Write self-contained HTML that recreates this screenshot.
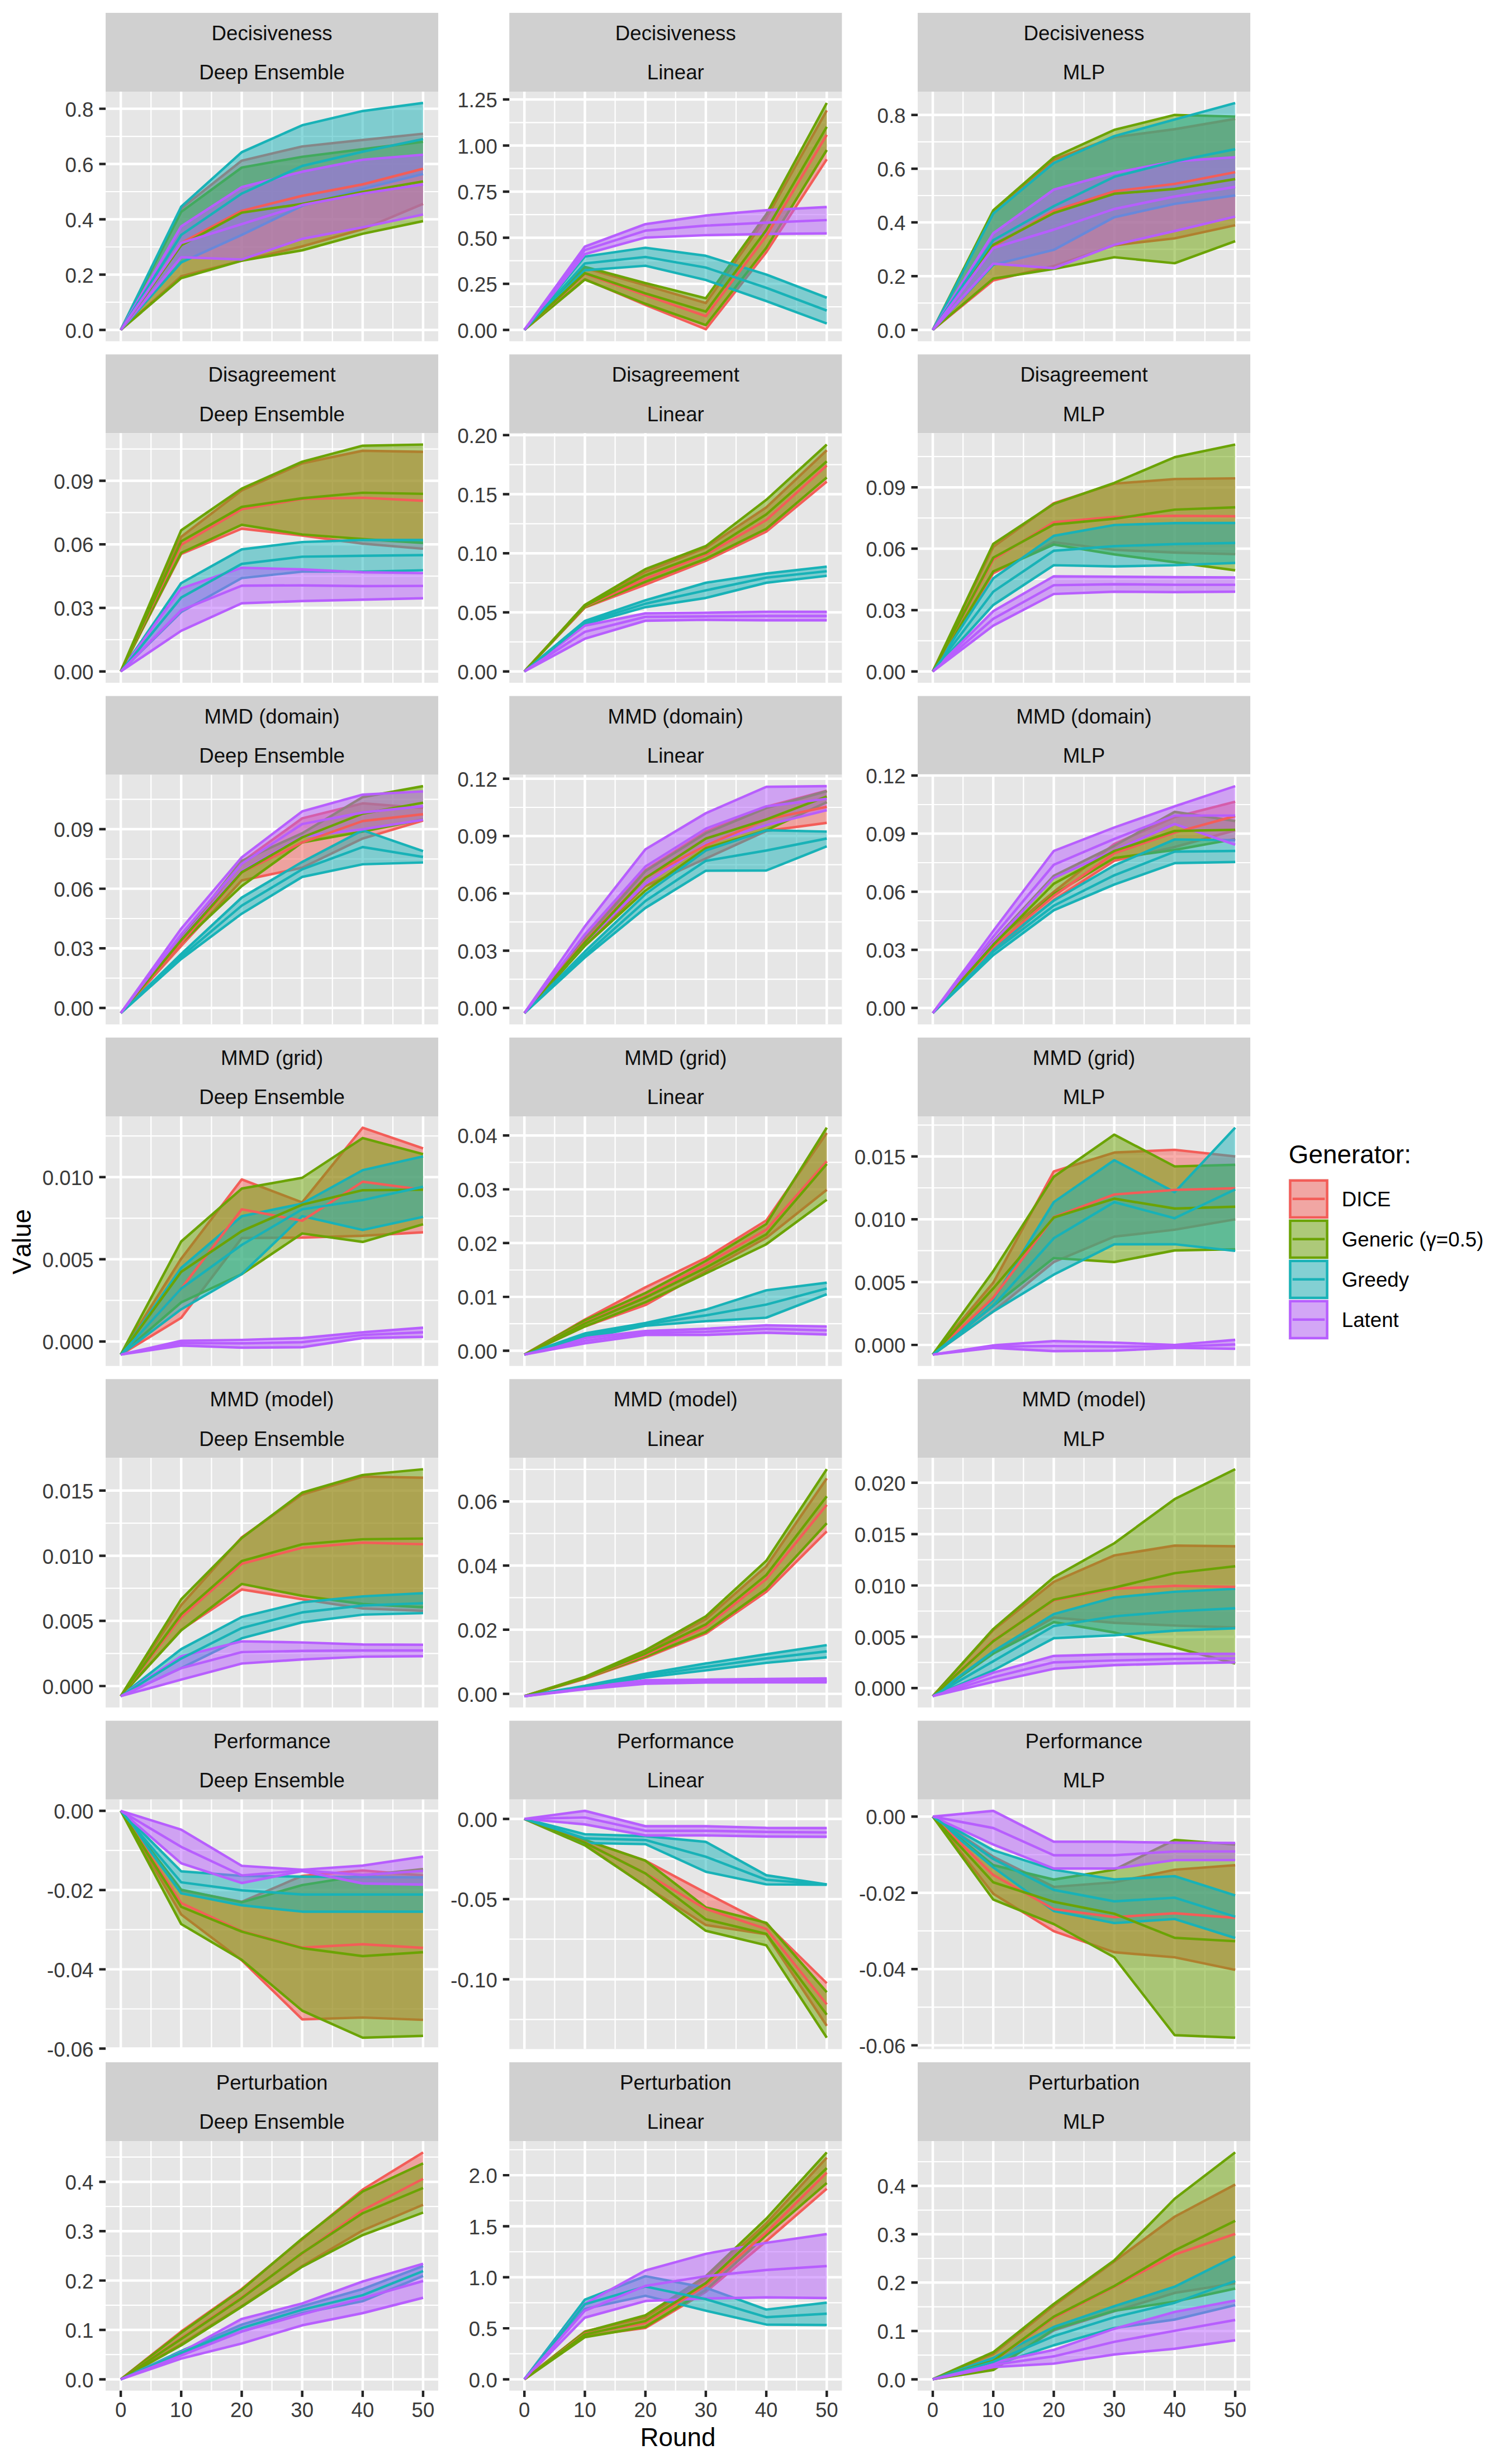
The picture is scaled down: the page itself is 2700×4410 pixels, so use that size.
<!DOCTYPE html>
<html lang="en"><head><meta charset="utf-8"><title>Generator metrics by round</title>
<style>html,body{margin:0;padding:0;background:#fff}svg{display:block}text{font-kerning:none}</style></head>
<body>
<svg width="2700" height="4410" viewBox="0 0 2700 4410" font-family='"Liberation Sans", Arial, Helvetica, sans-serif'>
<rect width="2700" height="4410" fill="#FFFFFF"/>
<g>
<rect x="189" y="23" width="595.1" height="141" fill="#D0D0D0"/>
<text x="486.6" y="72.1" font-size="36.67" fill="#0F0F0F" text-anchor="middle">Decisiveness</text>
<text x="486.6" y="142.2" font-size="36.67" fill="#0F0F0F" text-anchor="middle">Deep Ensemble</text>
<rect x="189" y="164" width="595.1" height="446.7" fill="#E6E6E6"/>
<path d="M189 540.9H784.1M189 442H784.1M189 343H784.1M189 244.1H784.1M270.2 164V610.7M378.4 164V610.7M486.6 164V610.7M594.8 164V610.7M703 164V610.7" stroke="#FFFFFF" stroke-width="2.22" fill="none"/>
<path d="M189 590.4H784.1M189 491.4H784.1M189 392.5H784.1M189 293.5H784.1M189 194.6H784.1M216.1 164V610.7M324.2 164V610.7M432.5 164V610.7M540.7 164V610.7M648.9 164V610.7M757 164V610.7" stroke="#FFFFFF" stroke-width="4.45" fill="none"/>
<polygon points="216.1,590.4 324.2,373.2 432.5,287.6 540.7,262.1 648.9,250.5 757,239.4 757,364.9 648.9,410.2 540.7,441 432.5,466.6 324.2,494.5 216.1,590.4" fill="#F35D58" fill-opacity="0.5"/>
<polyline points="216.1,590.4 324.2,373.2 432.5,287.6 540.7,262.1 648.9,250.5 757,239.4" fill="none" stroke="#F35D58" stroke-width="4.45" stroke-linejoin="round"/>
<polyline points="216.1,590.4 324.2,494.5 432.5,466.6 540.7,441 648.9,410.2 757,364.9" fill="none" stroke="#F35D58" stroke-width="4.45" stroke-linejoin="round"/>
<polygon points="216.1,590.4 324.2,379.3 432.5,299.9 540.7,280.6 648.9,267 757,253.8 757,395.8 648.9,418.4 540.7,448 432.5,466.6 324.2,497.8 216.1,590.4" fill="#6BA304" fill-opacity="0.5"/>
<polyline points="216.1,590.4 324.2,379.3 432.5,299.9 540.7,280.6 648.9,267 757,253.8" fill="none" stroke="#6BA304" stroke-width="4.45" stroke-linejoin="round"/>
<polyline points="216.1,590.4 324.2,497.8 432.5,466.6 540.7,448 648.9,418.4 757,395.8" fill="none" stroke="#6BA304" stroke-width="4.45" stroke-linejoin="round"/>
<polygon points="216.1,590.4 324.2,369.9 432.5,272.4 540.7,224.2 648.9,198.7 757,184.3 757,311.4 648.9,338.2 540.7,368.2 432.5,420.5 324.2,469.8 216.1,590.4" fill="#18B2B7" fill-opacity="0.5"/>
<polyline points="216.1,590.4 324.2,369.9 432.5,272.4 540.7,224.2 648.9,198.7 757,184.3" fill="none" stroke="#18B2B7" stroke-width="4.45" stroke-linejoin="round"/>
<polyline points="216.1,590.4 324.2,469.8 432.5,420.5 540.7,368.2 648.9,338.2 757,311.4" fill="none" stroke="#18B2B7" stroke-width="4.45" stroke-linejoin="round"/>
<polygon points="216.1,590.4 324.2,405.2 432.5,334.9 540.7,307.3 648.9,285.9 757,276.9 757,383.9 648.9,406.9 540.7,427.5 432.5,464.5 324.2,460.4 216.1,590.4" fill="#B75EFE" fill-opacity="0.5"/>
<polyline points="216.1,590.4 324.2,405.2 432.5,334.9 540.7,307.3 648.9,285.9 757,276.9" fill="none" stroke="#B75EFE" stroke-width="4.45" stroke-linejoin="round"/>
<polyline points="216.1,590.4 324.2,460.4 432.5,464.5 540.7,427.5 648.9,406.9 757,383.9" fill="none" stroke="#B75EFE" stroke-width="4.45" stroke-linejoin="round"/>
<polyline points="216.1,590.4 324.2,434.9 432.5,377.3 540.7,350.5 648.9,330 757,302" fill="none" stroke="#F35D58" stroke-width="4.45" stroke-linejoin="round"/>
<polyline points="216.1,590.4 324.2,439 432.5,380.6 540.7,364.9 648.9,343.5 757,324.6" fill="none" stroke="#6BA304" stroke-width="4.45" stroke-linejoin="round"/>
<polyline points="216.1,590.4 324.2,420.5 432.5,346.4 540.7,297 648.9,271.5 757,248.9" fill="none" stroke="#18B2B7" stroke-width="4.45" stroke-linejoin="round"/>
<polyline points="216.1,590.4 324.2,434.9 432.5,401.1 540.7,367 648.9,346.4 757,330" fill="none" stroke="#B75EFE" stroke-width="4.45" stroke-linejoin="round"/>
<path d="M177.5 590.4H189M177.5 491.4H189M177.5 392.5H189M177.5 293.5H189M177.5 194.6H189" stroke="#232323" stroke-width="4.45" fill="none"/>
<text x="167.5" y="604.5" font-size="36.67" fill="#3A3A3A" text-anchor="end">0.0</text>
<text x="167.5" y="505.5" font-size="36.67" fill="#3A3A3A" text-anchor="end">0.2</text>
<text x="167.5" y="406.6" font-size="36.67" fill="#3A3A3A" text-anchor="end">0.4</text>
<text x="167.5" y="307.6" font-size="36.67" fill="#3A3A3A" text-anchor="end">0.6</text>
<text x="167.5" y="208.7" font-size="36.67" fill="#3A3A3A" text-anchor="end">0.8</text>
</g>
<g>
<rect x="911.3" y="23" width="595.1" height="141" fill="#D0D0D0"/>
<text x="1208.8" y="72.1" font-size="36.67" fill="#0F0F0F" text-anchor="middle">Decisiveness</text>
<text x="1208.8" y="142.2" font-size="36.67" fill="#0F0F0F" text-anchor="middle">Linear</text>
<rect x="911.3" y="164" width="595.1" height="446.7" fill="#E6E6E6"/>
<path d="M911.3 549.2H1506.4M911.3 466.7H1506.4M911.3 384.2H1506.4M911.3 301.7H1506.4M911.3 219.3H1506.4M992.4 164V610.7M1100.6 164V610.7M1208.8 164V610.7M1317 164V610.7M1425.2 164V610.7" stroke="#FFFFFF" stroke-width="2.22" fill="none"/>
<path d="M911.3 590.4H1506.4M911.3 507.9H1506.4M911.3 425.4H1506.4M911.3 343H1506.4M911.3 260.5H1506.4M911.3 178H1506.4M938.3 164V610.7M1046.5 164V610.7M1154.8 164V610.7M1262.9 164V610.7M1371.1 164V610.7M1479.3 164V610.7" stroke="#FFFFFF" stroke-width="4.45" fill="none"/>
<polygon points="938.3,590.4 1046.5,479.7 1154.8,510.7 1262.9,542.4 1371.1,390.5 1479.3,197.6 1479.3,285.1 1371.1,451.4 1262.9,589.3 1154.8,545.8 1046.5,499.5 938.3,590.4" fill="#F35D58" fill-opacity="0.5"/>
<polyline points="938.3,590.4 1046.5,479.7 1154.8,510.7 1262.9,542.4 1371.1,390.5 1479.3,197.6" fill="none" stroke="#F35D58" stroke-width="4.45" stroke-linejoin="round"/>
<polyline points="938.3,590.4 1046.5,499.5 1154.8,545.8 1262.9,589.3 1371.1,451.4 1479.3,285.1" fill="none" stroke="#F35D58" stroke-width="4.45" stroke-linejoin="round"/>
<polygon points="938.3,590.4 1046.5,477.6 1154.8,506.6 1262.9,533.9 1371.1,383.6 1479.3,184.3 1479.3,268.5 1371.1,443.7 1262.9,581.9 1154.8,543.7 1046.5,500.4 938.3,590.4" fill="#6BA304" fill-opacity="0.5"/>
<polyline points="938.3,590.4 1046.5,477.6 1154.8,506.6 1262.9,533.9 1371.1,383.6 1479.3,184.3" fill="none" stroke="#6BA304" stroke-width="4.45" stroke-linejoin="round"/>
<polyline points="938.3,590.4 1046.5,500.4 1154.8,543.7 1262.9,581.9 1371.1,443.7 1479.3,268.5" fill="none" stroke="#6BA304" stroke-width="4.45" stroke-linejoin="round"/>
<polygon points="938.3,590.4 1046.5,459.1 1154.8,443.4 1262.9,457.8 1371.1,491.3 1479.3,532.8 1479.3,579 1371.1,538.8 1262.9,501.2 1154.8,475.6 1046.5,483.8 938.3,590.4" fill="#18B2B7" fill-opacity="0.5"/>
<polyline points="938.3,590.4 1046.5,459.1 1154.8,443.4 1262.9,457.8 1371.1,491.3 1479.3,532.8" fill="none" stroke="#18B2B7" stroke-width="4.45" stroke-linejoin="round"/>
<polyline points="938.3,590.4 1046.5,483.8 1154.8,475.6 1262.9,501.2 1371.1,538.8 1479.3,579" fill="none" stroke="#18B2B7" stroke-width="4.45" stroke-linejoin="round"/>
<polygon points="938.3,590.4 1046.5,441.3 1154.8,401.2 1262.9,385.7 1371.1,376.2 1479.3,370.5 1479.3,417.7 1371.1,418.8 1262.9,420.9 1154.8,425.2 1046.5,454.9 938.3,590.4" fill="#B75EFE" fill-opacity="0.5"/>
<polyline points="938.3,590.4 1046.5,441.3 1154.8,401.2 1262.9,385.7 1371.1,376.2 1479.3,370.5" fill="none" stroke="#B75EFE" stroke-width="4.45" stroke-linejoin="round"/>
<polyline points="938.3,590.4 1046.5,454.9 1154.8,425.2 1262.9,420.9 1371.1,418.8 1479.3,417.7" fill="none" stroke="#B75EFE" stroke-width="4.45" stroke-linejoin="round"/>
<polyline points="938.3,590.4 1046.5,490 1154.8,528.4 1262.9,565.9 1371.1,422.4 1479.3,241.3" fill="none" stroke="#F35D58" stroke-width="4.45" stroke-linejoin="round"/>
<polyline points="938.3,590.4 1046.5,488.8 1154.8,525.1 1262.9,557.7 1371.1,411.8 1479.3,227" fill="none" stroke="#6BA304" stroke-width="4.45" stroke-linejoin="round"/>
<polyline points="938.3,590.4 1046.5,471.5 1154.8,459.9 1262.9,478.9 1371.1,515.1 1479.3,555.8" fill="none" stroke="#18B2B7" stroke-width="4.45" stroke-linejoin="round"/>
<polyline points="938.3,590.4 1046.5,447.5 1154.8,412.8 1262.9,403.8 1371.1,398.5 1479.3,393.9" fill="none" stroke="#B75EFE" stroke-width="4.45" stroke-linejoin="round"/>
<path d="M899.8 590.4H911.3M899.8 507.9H911.3M899.8 425.4H911.3M899.8 343H911.3M899.8 260.5H911.3M899.8 178H911.3" stroke="#232323" stroke-width="4.45" fill="none"/>
<text x="889.8" y="604.5" font-size="36.67" fill="#3A3A3A" text-anchor="end">0.00</text>
<text x="889.8" y="522" font-size="36.67" fill="#3A3A3A" text-anchor="end">0.25</text>
<text x="889.8" y="439.5" font-size="36.67" fill="#3A3A3A" text-anchor="end">0.50</text>
<text x="889.8" y="357.1" font-size="36.67" fill="#3A3A3A" text-anchor="end">0.75</text>
<text x="889.8" y="274.6" font-size="36.67" fill="#3A3A3A" text-anchor="end">1.00</text>
<text x="889.8" y="192.1" font-size="36.67" fill="#3A3A3A" text-anchor="end">1.25</text>
</g>
<g>
<rect x="1642" y="23" width="595.1" height="141" fill="#D0D0D0"/>
<text x="1939.5" y="72.1" font-size="36.67" fill="#0F0F0F" text-anchor="middle">Decisiveness</text>
<text x="1939.5" y="142.2" font-size="36.67" fill="#0F0F0F" text-anchor="middle">MLP</text>
<rect x="1642" y="164" width="595.1" height="446.7" fill="#E6E6E6"/>
<path d="M1642 542.3H2237.1M1642 446.1H2237.1M1642 350H2237.1M1642 253.8H2237.1M1723.1 164V610.7M1831.3 164V610.7M1939.5 164V610.7M2047.8 164V610.7M2155.9 164V610.7" stroke="#FFFFFF" stroke-width="2.22" fill="none"/>
<path d="M1642 590.4H2237.1M1642 494.2H2237.1M1642 398H2237.1M1642 301.9H2237.1M1642 205.7H2237.1M1669 164V610.7M1777.2 164V610.7M1885.5 164V610.7M1993.7 164V610.7M2101.8 164V610.7M2210.1 164V610.7" stroke="#FFFFFF" stroke-width="4.45" fill="none"/>
<polygon points="1669,590.4 1777.2,379.3 1885.5,285.9 1993.7,245.6 2101.8,231.2 2210.1,212.7 2210.1,403.2 2101.8,426.6 1993.7,439 1885.5,476 1777.2,501.9 1669,590.4" fill="#F35D58" fill-opacity="0.5"/>
<polyline points="1669,590.4 1777.2,379.3 1885.5,285.9 1993.7,245.6 2101.8,231.2 2210.1,212.7" fill="none" stroke="#F35D58" stroke-width="4.45" stroke-linejoin="round"/>
<polyline points="1669,590.4 1777.2,501.9 1885.5,476 1993.7,439 2101.8,426.6 2210.1,403.2" fill="none" stroke="#F35D58" stroke-width="4.45" stroke-linejoin="round"/>
<polygon points="1669,590.4 1777.2,376.4 1885.5,281.8 1993.7,232.4 2101.8,205.7 2210.1,208.6 2210.1,431.6 2101.8,471.1 1993.7,460.4 1885.5,481.4 1777.2,498.6 1669,590.4" fill="#6BA304" fill-opacity="0.5"/>
<polyline points="1669,590.4 1777.2,376.4 1885.5,281.8 1993.7,232.4 2101.8,205.7 2210.1,208.6" fill="none" stroke="#6BA304" stroke-width="4.45" stroke-linejoin="round"/>
<polyline points="1669,590.4 1777.2,498.6 1885.5,481.4 1993.7,460.4 2101.8,471.1 2210.1,431.6" fill="none" stroke="#6BA304" stroke-width="4.45" stroke-linejoin="round"/>
<polygon points="1669,590.4 1777.2,382.2 1885.5,291.7 1993.7,243.6 2101.8,213.9 2210.1,184.3 2210.1,349.7 2101.8,364.9 1993.7,388.8 1885.5,447.2 1777.2,474 1669,590.4" fill="#18B2B7" fill-opacity="0.5"/>
<polyline points="1669,590.4 1777.2,382.2 1885.5,291.7 1993.7,243.6 2101.8,213.9 2210.1,184.3" fill="none" stroke="#18B2B7" stroke-width="4.45" stroke-linejoin="round"/>
<polyline points="1669,590.4 1777.2,474 1885.5,447.2 1993.7,388.8 2101.8,364.9 2210.1,349.7" fill="none" stroke="#18B2B7" stroke-width="4.45" stroke-linejoin="round"/>
<polygon points="1669,590.4 1777.2,417.6 1885.5,339.4 1993.7,309.4 2101.8,288.8 2210.1,281.4 2210.1,387.6 2101.8,413.5 1993.7,438.2 1885.5,480.1 1777.2,471.9 1669,590.4" fill="#B75EFE" fill-opacity="0.5"/>
<polyline points="1669,590.4 1777.2,417.6 1885.5,339.4 1993.7,309.4 2101.8,288.8 2210.1,281.4" fill="none" stroke="#B75EFE" stroke-width="4.45" stroke-linejoin="round"/>
<polyline points="1669,590.4 1777.2,471.9 1885.5,480.1 1993.7,438.2 2101.8,413.5 2210.1,387.6" fill="none" stroke="#B75EFE" stroke-width="4.45" stroke-linejoin="round"/>
<polyline points="1669,590.4 1777.2,441 1885.5,377.3 1993.7,342.3 2101.8,329.1 2210.1,308.1" fill="none" stroke="#F35D58" stroke-width="4.45" stroke-linejoin="round"/>
<polyline points="1669,590.4 1777.2,438.2 1885.5,381.4 1993.7,346.8 2101.8,338.2 2210.1,320.5" fill="none" stroke="#6BA304" stroke-width="4.45" stroke-linejoin="round"/>
<polyline points="1669,590.4 1777.2,429.9 1885.5,369 1993.7,316.4 2101.8,288.8 2210.1,267" fill="none" stroke="#18B2B7" stroke-width="4.45" stroke-linejoin="round"/>
<polyline points="1669,590.4 1777.2,443.9 1885.5,411 1993.7,374 2101.8,351.8 2210.1,334.5" fill="none" stroke="#B75EFE" stroke-width="4.45" stroke-linejoin="round"/>
<path d="M1630.5 590.4H1642M1630.5 494.2H1642M1630.5 398H1642M1630.5 301.9H1642M1630.5 205.7H1642" stroke="#232323" stroke-width="4.45" fill="none"/>
<text x="1620.5" y="604.5" font-size="36.67" fill="#3A3A3A" text-anchor="end">0.0</text>
<text x="1620.5" y="508.3" font-size="36.67" fill="#3A3A3A" text-anchor="end">0.2</text>
<text x="1620.5" y="412.1" font-size="36.67" fill="#3A3A3A" text-anchor="end">0.4</text>
<text x="1620.5" y="316" font-size="36.67" fill="#3A3A3A" text-anchor="end">0.6</text>
<text x="1620.5" y="219.8" font-size="36.67" fill="#3A3A3A" text-anchor="end">0.8</text>
</g>
<g>
<rect x="189" y="634.3" width="595.1" height="141" fill="#D0D0D0"/>
<text x="486.6" y="683.4" font-size="36.67" fill="#0F0F0F" text-anchor="middle">Disagreement</text>
<text x="486.6" y="753.5" font-size="36.67" fill="#0F0F0F" text-anchor="middle">Deep Ensemble</text>
<rect x="189" y="775.3" width="595.1" height="446.7" fill="#E6E6E6"/>
<path d="M189 1144.9H784.1M189 1031.1H784.1M189 917.4H784.1M189 803.6H784.1M270.2 775.3V1222M378.4 775.3V1222M486.6 775.3V1222M594.8 775.3V1222M703 775.3V1222" stroke="#FFFFFF" stroke-width="2.22" fill="none"/>
<path d="M189 1201.7H784.1M189 1088H784.1M189 974.2H784.1M189 860.5H784.1M216.1 775.3V1222M324.2 775.3V1222M432.5 775.3V1222M540.7 775.3V1222M648.9 775.3V1222M757 775.3V1222" stroke="#FFFFFF" stroke-width="4.45" fill="none"/>
<polygon points="216.1,1201.7 324.2,960.7 432.5,877.8 540.7,829.3 648.9,806.7 757,808.8 757,982.1 648.9,973 540.7,958.6 432.5,946.3 324.2,991.5 216.1,1201.7" fill="#F35D58" fill-opacity="0.5"/>
<polyline points="216.1,1201.7 324.2,960.7 432.5,877.8 540.7,829.3 648.9,806.7 757,808.8" fill="none" stroke="#F35D58" stroke-width="4.45" stroke-linejoin="round"/>
<polyline points="216.1,1201.7 324.2,991.5 432.5,946.3 540.7,958.6 648.9,973 757,982.1" fill="none" stroke="#F35D58" stroke-width="4.45" stroke-linejoin="round"/>
<polygon points="216.1,1201.7 324.2,949.2 432.5,874.5 540.7,826.4 648.9,797.7 757,795.6 757,971.8 648.9,964.8 540.7,956.6 432.5,939.3 324.2,989.4 216.1,1201.7" fill="#6BA304" fill-opacity="0.5"/>
<polyline points="216.1,1201.7 324.2,949.2 432.5,874.5 540.7,826.4 648.9,797.7 757,795.6" fill="none" stroke="#6BA304" stroke-width="4.45" stroke-linejoin="round"/>
<polyline points="216.1,1201.7 324.2,989.4 432.5,939.3 540.7,956.6 648.9,964.8 757,971.8" fill="none" stroke="#6BA304" stroke-width="4.45" stroke-linejoin="round"/>
<polygon points="216.1,1201.7 324.2,1043.6 432.5,983.3 540.7,970.1 648.9,966.4 757,966.4 757,1020.6 648.9,1023.1 540.7,1023.1 432.5,1034.6 324.2,1095.4 216.1,1201.7" fill="#18B2B7" fill-opacity="0.5"/>
<polyline points="216.1,1201.7 324.2,1043.6 432.5,983.3 540.7,970.1 648.9,966.4 757,966.4" fill="none" stroke="#18B2B7" stroke-width="4.45" stroke-linejoin="round"/>
<polyline points="216.1,1201.7 324.2,1095.4 432.5,1034.6 540.7,1023.1 648.9,1023.1 757,1020.6" fill="none" stroke="#18B2B7" stroke-width="4.45" stroke-linejoin="round"/>
<polygon points="216.1,1201.7 324.2,1053.1 432.5,1016.1 540.7,1019 648.9,1024.3 757,1025.6 757,1070.7 648.9,1073.2 540.7,1075.7 432.5,1079.8 324.2,1129 216.1,1201.7" fill="#B75EFE" fill-opacity="0.5"/>
<polyline points="216.1,1201.7 324.2,1053.1 432.5,1016.1 540.7,1019 648.9,1024.3 757,1025.6" fill="none" stroke="#B75EFE" stroke-width="4.45" stroke-linejoin="round"/>
<polyline points="216.1,1201.7 324.2,1129 432.5,1079.8 540.7,1075.7 648.9,1073.2 757,1070.7" fill="none" stroke="#B75EFE" stroke-width="4.45" stroke-linejoin="round"/>
<polyline points="216.1,1201.7 324.2,975.1 432.5,911.4 540.7,892.9 648.9,890.9 757,896.2" fill="none" stroke="#F35D58" stroke-width="4.45" stroke-linejoin="round"/>
<polyline points="216.1,1201.7 324.2,968.9 432.5,907.3 540.7,891.7 648.9,881.9 757,883.9" fill="none" stroke="#6BA304" stroke-width="4.45" stroke-linejoin="round"/>
<polyline points="216.1,1201.7 324.2,1069.5 432.5,1009.2 540.7,996.4 648.9,994.8 757,993.5" fill="none" stroke="#18B2B7" stroke-width="4.45" stroke-linejoin="round"/>
<polyline points="216.1,1201.7 324.2,1092.1 432.5,1048.2 540.7,1047.7 648.9,1049 757,1048.6" fill="none" stroke="#B75EFE" stroke-width="4.45" stroke-linejoin="round"/>
<path d="M177.5 1201.7H189M177.5 1088H189M177.5 974.2H189M177.5 860.5H189" stroke="#232323" stroke-width="4.45" fill="none"/>
<text x="167.5" y="1215.8" font-size="36.67" fill="#3A3A3A" text-anchor="end">0.00</text>
<text x="167.5" y="1102.1" font-size="36.67" fill="#3A3A3A" text-anchor="end">0.03</text>
<text x="167.5" y="988.3" font-size="36.67" fill="#3A3A3A" text-anchor="end">0.06</text>
<text x="167.5" y="874.6" font-size="36.67" fill="#3A3A3A" text-anchor="end">0.09</text>
</g>
<g>
<rect x="911.3" y="634.3" width="595.1" height="141" fill="#D0D0D0"/>
<text x="1208.8" y="683.4" font-size="36.67" fill="#0F0F0F" text-anchor="middle">Disagreement</text>
<text x="1208.8" y="753.5" font-size="36.67" fill="#0F0F0F" text-anchor="middle">Linear</text>
<rect x="911.3" y="775.3" width="595.1" height="446.7" fill="#E6E6E6"/>
<path d="M911.3 1148.9H1506.4M911.3 1043.1H1506.4M911.3 937.4H1506.4M911.3 831.6H1506.4M992.4 775.3V1222M1100.6 775.3V1222M1208.8 775.3V1222M1317 775.3V1222M1425.2 775.3V1222" stroke="#FFFFFF" stroke-width="2.22" fill="none"/>
<path d="M911.3 1201.7H1506.4M911.3 1096H1506.4M911.3 990.2H1506.4M911.3 884.5H1506.4M911.3 778.7H1506.4M938.3 775.3V1222M1046.5 775.3V1222M1154.8 775.3V1222M1262.9 775.3V1222M1371.1 775.3V1222M1479.3 775.3V1222" stroke="#FFFFFF" stroke-width="4.45" fill="none"/>
<polygon points="938.3,1201.7 1046.5,1083.4 1154.8,1023.6 1262.9,980.3 1371.1,908.2 1479.3,805.9 1479.3,862 1371.1,951.5 1262.9,1003.8 1154.8,1046.3 1046.5,1087.5 938.3,1201.7" fill="#F35D58" fill-opacity="0.5"/>
<polyline points="938.3,1201.7 1046.5,1083.4 1154.8,1023.6 1262.9,980.3 1371.1,908.2 1479.3,805.9" fill="none" stroke="#F35D58" stroke-width="4.45" stroke-linejoin="round"/>
<polyline points="938.3,1201.7 1046.5,1087.5 1154.8,1046.3 1262.9,1003.8 1371.1,951.5 1479.3,862" fill="none" stroke="#F35D58" stroke-width="4.45" stroke-linejoin="round"/>
<polygon points="938.3,1201.7 1046.5,1082.6 1154.8,1018.7 1262.9,977.4 1371.1,894.6 1479.3,795.6 1479.3,854.6 1371.1,946.5 1262.9,1000.1 1154.8,1041.4 1046.5,1086.7 938.3,1201.7" fill="#6BA304" fill-opacity="0.5"/>
<polyline points="938.3,1201.7 1046.5,1082.6 1154.8,1018.7 1262.9,977.4 1371.1,894.6 1479.3,795.6" fill="none" stroke="#6BA304" stroke-width="4.45" stroke-linejoin="round"/>
<polyline points="938.3,1201.7 1046.5,1086.7 1154.8,1041.4 1262.9,1000.1 1371.1,946.5 1479.3,854.6" fill="none" stroke="#6BA304" stroke-width="4.45" stroke-linejoin="round"/>
<polygon points="938.3,1201.7 1046.5,1111.4 1154.8,1074.3 1262.9,1043 1371.1,1026.5 1479.3,1014.1 1479.3,1030.6 1371.1,1043 1262.9,1070.2 1154.8,1086.7 1046.5,1117.2 938.3,1201.7" fill="#18B2B7" fill-opacity="0.5"/>
<polyline points="938.3,1201.7 1046.5,1111.4 1154.8,1074.3 1262.9,1043 1371.1,1026.5 1479.3,1014.1" fill="none" stroke="#18B2B7" stroke-width="4.45" stroke-linejoin="round"/>
<polyline points="938.3,1201.7 1046.5,1117.2 1154.8,1086.7 1262.9,1070.2 1371.1,1043 1479.3,1030.6" fill="none" stroke="#18B2B7" stroke-width="4.45" stroke-linejoin="round"/>
<polygon points="938.3,1201.7 1046.5,1119.7 1154.8,1097.8 1262.9,1096.6 1371.1,1094.9 1479.3,1094.9 1479.3,1110.2 1371.1,1110.2 1262.9,1109.4 1154.8,1111 1046.5,1143.2 938.3,1201.7" fill="#B75EFE" fill-opacity="0.5"/>
<polyline points="938.3,1201.7 1046.5,1119.7 1154.8,1097.8 1262.9,1096.6 1371.1,1094.9 1479.3,1094.9" fill="none" stroke="#B75EFE" stroke-width="4.45" stroke-linejoin="round"/>
<polyline points="938.3,1201.7 1046.5,1143.2 1154.8,1111 1262.9,1109.4 1371.1,1110.2 1479.3,1110.2" fill="none" stroke="#B75EFE" stroke-width="4.45" stroke-linejoin="round"/>
<polyline points="938.3,1201.7 1046.5,1085.5 1154.8,1036 1262.9,992.7 1371.1,930.9 1479.3,833.2" fill="none" stroke="#F35D58" stroke-width="4.45" stroke-linejoin="round"/>
<polyline points="938.3,1201.7 1046.5,1084.6 1154.8,1029.8 1262.9,989.4 1371.1,920.6 1479.3,825.7" fill="none" stroke="#6BA304" stroke-width="4.45" stroke-linejoin="round"/>
<polyline points="938.3,1201.7 1046.5,1114.3 1154.8,1080.5 1262.9,1056.6 1371.1,1033.9 1479.3,1022.4" fill="none" stroke="#18B2B7" stroke-width="4.45" stroke-linejoin="round"/>
<polyline points="938.3,1201.7 1046.5,1130.8 1154.8,1104 1262.9,1103.2 1371.1,1102.4 1479.3,1102.4" fill="none" stroke="#B75EFE" stroke-width="4.45" stroke-linejoin="round"/>
<path d="M899.8 1201.7H911.3M899.8 1096H911.3M899.8 990.2H911.3M899.8 884.5H911.3M899.8 778.7H911.3" stroke="#232323" stroke-width="4.45" fill="none"/>
<text x="889.8" y="1215.8" font-size="36.67" fill="#3A3A3A" text-anchor="end">0.00</text>
<text x="889.8" y="1110.1" font-size="36.67" fill="#3A3A3A" text-anchor="end">0.05</text>
<text x="889.8" y="1004.3" font-size="36.67" fill="#3A3A3A" text-anchor="end">0.10</text>
<text x="889.8" y="898.6" font-size="36.67" fill="#3A3A3A" text-anchor="end">0.15</text>
<text x="889.8" y="792.8" font-size="36.67" fill="#3A3A3A" text-anchor="end">0.20</text>
</g>
<g>
<rect x="1642" y="634.3" width="595.1" height="141" fill="#D0D0D0"/>
<text x="1939.5" y="683.4" font-size="36.67" fill="#0F0F0F" text-anchor="middle">Disagreement</text>
<text x="1939.5" y="753.5" font-size="36.67" fill="#0F0F0F" text-anchor="middle">MLP</text>
<rect x="1642" y="775.3" width="595.1" height="446.7" fill="#E6E6E6"/>
<path d="M1642 1146.8H2237.1M1642 1036.9H2237.1M1642 927.1H2237.1M1642 817.2H2237.1M1723.1 775.3V1222M1831.3 775.3V1222M1939.5 775.3V1222M2047.8 775.3V1222M2155.9 775.3V1222" stroke="#FFFFFF" stroke-width="2.22" fill="none"/>
<path d="M1642 1201.7H2237.1M1642 1091.9H2237.1M1642 982H2237.1M1642 872.2H2237.1M1669 775.3V1222M1777.2 775.3V1222M1885.5 775.3V1222M1993.7 775.3V1222M2101.8 775.3V1222M2210.1 775.3V1222" stroke="#FFFFFF" stroke-width="4.45" fill="none"/>
<polygon points="1669,1201.7 1777.2,978.7 1885.5,900.6 1993.7,865.6 2101.8,857.4 2210.1,856.1 2210.1,991.9 2101.8,989 1993.7,984.1 1885.5,970.5 1777.2,1026 1669,1201.7" fill="#F35D58" fill-opacity="0.5"/>
<polyline points="1669,1201.7 1777.2,978.7 1885.5,900.6 1993.7,865.6 2101.8,857.4 2210.1,856.1" fill="none" stroke="#F35D58" stroke-width="4.45" stroke-linejoin="round"/>
<polyline points="1669,1201.7 1777.2,1026 1885.5,970.5 1993.7,984.1 2101.8,989 2210.1,991.9" fill="none" stroke="#F35D58" stroke-width="4.45" stroke-linejoin="round"/>
<polygon points="1669,1201.7 1777.2,973.4 1885.5,901.8 1993.7,864.3 2101.8,818.3 2210.1,795.6 2210.1,1020.7 2101.8,1006.3 1993.7,992.3 1885.5,974.6 1777.2,1022.7 1669,1201.7" fill="#6BA304" fill-opacity="0.5"/>
<polyline points="1669,1201.7 1777.2,973.4 1885.5,901.8 1993.7,864.3 2101.8,818.3 2210.1,795.6" fill="none" stroke="#6BA304" stroke-width="4.45" stroke-linejoin="round"/>
<polyline points="1669,1201.7 1777.2,1022.7 1885.5,974.6 1993.7,992.3 2101.8,1006.3 2210.1,1020.7" fill="none" stroke="#6BA304" stroke-width="4.45" stroke-linejoin="round"/>
<polygon points="1669,1201.7 1777.2,1035.1 1885.5,959 1993.7,939.6 2101.8,936.3 2210.1,935.9 2210.1,1007.5 2101.8,1011.6 1993.7,1013.7 1885.5,1011.6 1777.2,1082.8 1669,1201.7" fill="#18B2B7" fill-opacity="0.5"/>
<polyline points="1669,1201.7 1777.2,1035.1 1885.5,959 1993.7,939.6 2101.8,936.3 2210.1,935.9" fill="none" stroke="#18B2B7" stroke-width="4.45" stroke-linejoin="round"/>
<polyline points="1669,1201.7 1777.2,1082.8 1885.5,1011.6 1993.7,1013.7 2101.8,1011.6 2210.1,1007.5" fill="none" stroke="#18B2B7" stroke-width="4.45" stroke-linejoin="round"/>
<polygon points="1669,1201.7 1777.2,1093.9 1885.5,1031.4 1993.7,1032.2 2101.8,1033 2210.1,1033.4 2210.1,1059 2101.8,1059.8 1993.7,1059 1885.5,1063.1 1777.2,1119.8 1669,1201.7" fill="#B75EFE" fill-opacity="0.5"/>
<polyline points="1669,1201.7 1777.2,1093.9 1885.5,1031.4 1993.7,1032.2 2101.8,1033 2210.1,1033.4" fill="none" stroke="#B75EFE" stroke-width="4.45" stroke-linejoin="round"/>
<polyline points="1669,1201.7 1777.2,1119.8 1885.5,1063.1 1993.7,1059 2101.8,1059.8 2210.1,1059" fill="none" stroke="#B75EFE" stroke-width="4.45" stroke-linejoin="round"/>
<polyline points="1669,1201.7 1777.2,1001.4 1885.5,934.7 1993.7,925.2 2101.8,923.2 2210.1,924" fill="none" stroke="#F35D58" stroke-width="4.45" stroke-linejoin="round"/>
<polyline points="1669,1201.7 1777.2,998.1 1885.5,938.8 1993.7,928.5 2101.8,912.1 2210.1,908" fill="none" stroke="#6BA304" stroke-width="4.45" stroke-linejoin="round"/>
<polyline points="1669,1201.7 1777.2,1059 1885.5,985.7 1993.7,977.5 2101.8,973.8 2210.1,971.7" fill="none" stroke="#18B2B7" stroke-width="4.45" stroke-linejoin="round"/>
<polyline points="1669,1201.7 1777.2,1107.5 1885.5,1047.4 1993.7,1045.8 2101.8,1046.6 2210.1,1046.6" fill="none" stroke="#B75EFE" stroke-width="4.45" stroke-linejoin="round"/>
<path d="M1630.5 1201.7H1642M1630.5 1091.9H1642M1630.5 982H1642M1630.5 872.2H1642" stroke="#232323" stroke-width="4.45" fill="none"/>
<text x="1620.5" y="1215.8" font-size="36.67" fill="#3A3A3A" text-anchor="end">0.00</text>
<text x="1620.5" y="1106" font-size="36.67" fill="#3A3A3A" text-anchor="end">0.03</text>
<text x="1620.5" y="996.1" font-size="36.67" fill="#3A3A3A" text-anchor="end">0.06</text>
<text x="1620.5" y="886.3" font-size="36.67" fill="#3A3A3A" text-anchor="end">0.09</text>
</g>
<g>
<rect x="189" y="1245.7" width="595.1" height="141" fill="#D0D0D0"/>
<text x="486.6" y="1294.8" font-size="36.67" fill="#0F0F0F" text-anchor="middle">MMD (domain)</text>
<text x="486.6" y="1364.9" font-size="36.67" fill="#0F0F0F" text-anchor="middle">Deep Ensemble</text>
<rect x="189" y="1386.7" width="595.1" height="446.7" fill="#E6E6E6"/>
<path d="M189 1750.7H784.1M189 1644H784.1M189 1537.3H784.1M189 1430.6H784.1M270.2 1386.7V1833.4M378.4 1386.7V1833.4M486.6 1386.7V1833.4M594.8 1386.7V1833.4M703 1386.7V1833.4" stroke="#FFFFFF" stroke-width="2.22" fill="none"/>
<path d="M189 1804H784.1M189 1697.3H784.1M189 1590.6H784.1M189 1483.9H784.1M216.1 1386.7V1833.4M324.2 1386.7V1833.4M432.5 1386.7V1833.4M540.7 1386.7V1833.4M648.9 1386.7V1833.4M757 1386.7V1833.4" stroke="#FFFFFF" stroke-width="4.45" fill="none"/>
<polygon points="216.1,1813.1 324.2,1684.7 432.5,1542.7 540.7,1464.6 648.9,1437.8 757,1446.1 757,1468.7 648.9,1500.8 540.7,1553 432.5,1575.7 324.2,1692.9 216.1,1813.1" fill="#F35D58" fill-opacity="0.5"/>
<polyline points="216.1,1813.1 324.2,1684.7 432.5,1542.7 540.7,1464.6 648.9,1437.8 757,1446.1" fill="none" stroke="#F35D58" stroke-width="4.45" stroke-linejoin="round"/>
<polyline points="216.1,1813.1 324.2,1692.9 432.5,1575.7 540.7,1553 648.9,1500.8 757,1468.7" fill="none" stroke="#F35D58" stroke-width="4.45" stroke-linejoin="round"/>
<polygon points="216.1,1813.1 324.2,1677.7 432.5,1540.7 540.7,1491.3 648.9,1426.7 757,1407 757,1466.6 648.9,1488.4 540.7,1507.8 432.5,1585.9 324.2,1687.6 216.1,1813.1" fill="#6BA304" fill-opacity="0.5"/>
<polyline points="216.1,1813.1 324.2,1677.7 432.5,1540.7 540.7,1491.3 648.9,1426.7 757,1407" fill="none" stroke="#6BA304" stroke-width="4.45" stroke-linejoin="round"/>
<polyline points="216.1,1813.1 324.2,1687.6 432.5,1585.9 540.7,1507.8 648.9,1488.4 757,1466.6" fill="none" stroke="#6BA304" stroke-width="4.45" stroke-linejoin="round"/>
<polygon points="216.1,1813.1 324.2,1707.3 432.5,1606.5 540.7,1542.7 648.9,1486 757,1523.4 757,1543.6 648.9,1546.9 540.7,1569.5 432.5,1635.3 324.2,1716.4 216.1,1813.1" fill="#18B2B7" fill-opacity="0.5"/>
<polyline points="216.1,1813.1 324.2,1707.3 432.5,1606.5 540.7,1542.7 648.9,1486 757,1523.4" fill="none" stroke="#18B2B7" stroke-width="4.45" stroke-linejoin="round"/>
<polyline points="216.1,1813.1 324.2,1716.4 432.5,1635.3 540.7,1569.5 648.9,1546.9 757,1543.6" fill="none" stroke="#18B2B7" stroke-width="4.45" stroke-linejoin="round"/>
<polygon points="216.1,1813.1 324.2,1662.1 432.5,1534.5 540.7,1452.2 648.9,1422.2 757,1416.4 757,1467.4 648.9,1484.3 540.7,1497.5 432.5,1559.2 324.2,1680.6 216.1,1813.1" fill="#B75EFE" fill-opacity="0.5"/>
<polyline points="216.1,1813.1 324.2,1662.1 432.5,1534.5 540.7,1452.2 648.9,1422.2 757,1416.4" fill="none" stroke="#B75EFE" stroke-width="4.45" stroke-linejoin="round"/>
<polyline points="216.1,1813.1 324.2,1680.6 432.5,1559.2 540.7,1497.5 648.9,1484.3 757,1467.4" fill="none" stroke="#B75EFE" stroke-width="4.45" stroke-linejoin="round"/>
<polyline points="216.1,1813.1 324.2,1687.6 432.5,1561.3 540.7,1507.8 648.9,1469.5 757,1457.2" fill="none" stroke="#F35D58" stroke-width="4.45" stroke-linejoin="round"/>
<polyline points="216.1,1813.1 324.2,1682.6 432.5,1561.3 540.7,1498.7 648.9,1456.3 757,1436.6" fill="none" stroke="#6BA304" stroke-width="4.45" stroke-linejoin="round"/>
<polyline points="216.1,1813.1 324.2,1712.3 432.5,1620.9 540.7,1555.9 648.9,1516 757,1533.7" fill="none" stroke="#18B2B7" stroke-width="4.45" stroke-linejoin="round"/>
<polyline points="216.1,1813.1 324.2,1672.3 432.5,1546 540.7,1474.9 648.9,1454.3 757,1442.8" fill="none" stroke="#B75EFE" stroke-width="4.45" stroke-linejoin="round"/>
<path d="M177.5 1804H189M177.5 1697.3H189M177.5 1590.6H189M177.5 1483.9H189" stroke="#232323" stroke-width="4.45" fill="none"/>
<text x="167.5" y="1818.1" font-size="36.67" fill="#3A3A3A" text-anchor="end">0.00</text>
<text x="167.5" y="1711.4" font-size="36.67" fill="#3A3A3A" text-anchor="end">0.03</text>
<text x="167.5" y="1604.7" font-size="36.67" fill="#3A3A3A" text-anchor="end">0.06</text>
<text x="167.5" y="1498" font-size="36.67" fill="#3A3A3A" text-anchor="end">0.09</text>
</g>
<g>
<rect x="911.3" y="1245.7" width="595.1" height="141" fill="#D0D0D0"/>
<text x="1208.8" y="1294.8" font-size="36.67" fill="#0F0F0F" text-anchor="middle">MMD (domain)</text>
<text x="1208.8" y="1364.9" font-size="36.67" fill="#0F0F0F" text-anchor="middle">Linear</text>
<rect x="911.3" y="1386.7" width="595.1" height="446.7" fill="#E6E6E6"/>
<path d="M911.3 1752.7H1506.4M911.3 1650.1H1506.4M911.3 1547.6H1506.4M911.3 1445H1506.4M992.4 1386.7V1833.4M1100.6 1386.7V1833.4M1208.8 1386.7V1833.4M1317 1386.7V1833.4M1425.2 1386.7V1833.4" stroke="#FFFFFF" stroke-width="2.22" fill="none"/>
<path d="M911.3 1804H1506.4M911.3 1701.4H1506.4M911.3 1598.9H1506.4M911.3 1496.3H1506.4M911.3 1393.7H1506.4M938.3 1386.7V1833.4M1046.5 1386.7V1833.4M1154.8 1386.7V1833.4M1262.9 1386.7V1833.4M1371.1 1386.7V1833.4M1479.3 1386.7V1833.4" stroke="#FFFFFF" stroke-width="4.45" fill="none"/>
<polygon points="938.3,1813.1 1046.5,1678.5 1154.8,1557.1 1262.9,1488.4 1371.1,1444 1479.3,1415.2 1479.3,1472.8 1371.1,1487.2 1262.9,1536.6 1154.8,1585.9 1046.5,1690.9 938.3,1813.1" fill="#F35D58" fill-opacity="0.5"/>
<polyline points="938.3,1813.1 1046.5,1678.5 1154.8,1557.1 1262.9,1488.4 1371.1,1444 1479.3,1415.2" fill="none" stroke="#F35D58" stroke-width="4.45" stroke-linejoin="round"/>
<polyline points="938.3,1813.1 1046.5,1690.9 1154.8,1585.9 1262.9,1536.6 1371.1,1487.2 1479.3,1472.8" fill="none" stroke="#F35D58" stroke-width="4.45" stroke-linejoin="round"/>
<polygon points="938.3,1813.1 1046.5,1680.6 1154.8,1559.2 1262.9,1491.3 1371.1,1446.1 1479.3,1416 1479.3,1435.8 1371.1,1486 1262.9,1518.1 1154.8,1594.2 1046.5,1692.9 938.3,1813.1" fill="#6BA304" fill-opacity="0.5"/>
<polyline points="938.3,1813.1 1046.5,1680.6 1154.8,1559.2 1262.9,1491.3 1371.1,1446.1 1479.3,1416" fill="none" stroke="#6BA304" stroke-width="4.45" stroke-linejoin="round"/>
<polyline points="938.3,1813.1 1046.5,1692.9 1154.8,1594.2 1262.9,1518.1 1371.1,1486 1479.3,1435.8" fill="none" stroke="#6BA304" stroke-width="4.45" stroke-linejoin="round"/>
<polygon points="938.3,1813.1 1046.5,1703.2 1154.8,1600.3 1262.9,1522.2 1371.1,1486 1479.3,1488.4 1479.3,1514.8 1371.1,1558 1262.9,1558.4 1154.8,1625 1046.5,1713.5 938.3,1813.1" fill="#18B2B7" fill-opacity="0.5"/>
<polyline points="938.3,1813.1 1046.5,1703.2 1154.8,1600.3 1262.9,1522.2 1371.1,1486 1479.3,1488.4" fill="none" stroke="#18B2B7" stroke-width="4.45" stroke-linejoin="round"/>
<polyline points="938.3,1813.1 1046.5,1713.5 1154.8,1625 1262.9,1558.4 1371.1,1558 1479.3,1514.8" fill="none" stroke="#18B2B7" stroke-width="4.45" stroke-linejoin="round"/>
<polygon points="938.3,1813.1 1046.5,1657.9 1154.8,1520.1 1262.9,1455.5 1371.1,1408.2 1479.3,1407 1479.3,1450.2 1371.1,1476.9 1262.9,1510.6 1154.8,1581.8 1046.5,1686.7 938.3,1813.1" fill="#B75EFE" fill-opacity="0.5"/>
<polyline points="938.3,1813.1 1046.5,1657.9 1154.8,1520.1 1262.9,1455.5 1371.1,1408.2 1479.3,1407" fill="none" stroke="#B75EFE" stroke-width="4.45" stroke-linejoin="round"/>
<polyline points="938.3,1813.1 1046.5,1686.7 1154.8,1581.8 1262.9,1510.6 1371.1,1476.9 1479.3,1450.2" fill="none" stroke="#B75EFE" stroke-width="4.45" stroke-linejoin="round"/>
<polyline points="938.3,1813.1 1046.5,1684.7 1154.8,1570.7 1262.9,1513.1 1371.1,1466.6 1479.3,1444" fill="none" stroke="#F35D58" stroke-width="4.45" stroke-linejoin="round"/>
<polyline points="938.3,1813.1 1046.5,1686.7 1154.8,1571.5 1262.9,1500.8 1371.1,1466.6 1479.3,1425.5" fill="none" stroke="#6BA304" stroke-width="4.45" stroke-linejoin="round"/>
<polyline points="938.3,1813.1 1046.5,1709.4 1154.8,1612.7 1262.9,1540.7 1371.1,1522.2 1479.3,1500.8" fill="none" stroke="#18B2B7" stroke-width="4.45" stroke-linejoin="round"/>
<polyline points="938.3,1813.1 1046.5,1672.3 1154.8,1551 1262.9,1483.1 1371.1,1443.2 1479.3,1429.6" fill="none" stroke="#B75EFE" stroke-width="4.45" stroke-linejoin="round"/>
<path d="M899.8 1804H911.3M899.8 1701.4H911.3M899.8 1598.9H911.3M899.8 1496.3H911.3M899.8 1393.7H911.3" stroke="#232323" stroke-width="4.45" fill="none"/>
<text x="889.8" y="1818.1" font-size="36.67" fill="#3A3A3A" text-anchor="end">0.00</text>
<text x="889.8" y="1715.5" font-size="36.67" fill="#3A3A3A" text-anchor="end">0.03</text>
<text x="889.8" y="1613" font-size="36.67" fill="#3A3A3A" text-anchor="end">0.06</text>
<text x="889.8" y="1510.4" font-size="36.67" fill="#3A3A3A" text-anchor="end">0.09</text>
<text x="889.8" y="1407.8" font-size="36.67" fill="#3A3A3A" text-anchor="end">0.12</text>
</g>
<g>
<rect x="1642" y="1245.7" width="595.1" height="141" fill="#D0D0D0"/>
<text x="1939.5" y="1294.8" font-size="36.67" fill="#0F0F0F" text-anchor="middle">MMD (domain)</text>
<text x="1939.5" y="1364.9" font-size="36.67" fill="#0F0F0F" text-anchor="middle">MLP</text>
<rect x="1642" y="1386.7" width="595.1" height="446.7" fill="#E6E6E6"/>
<path d="M1642 1752H2237.1M1642 1648H2237.1M1642 1544H2237.1M1642 1440H2237.1M1723.1 1386.7V1833.4M1831.3 1386.7V1833.4M1939.5 1386.7V1833.4M2047.8 1386.7V1833.4M2155.9 1386.7V1833.4" stroke="#FFFFFF" stroke-width="2.22" fill="none"/>
<path d="M1642 1804H2237.1M1642 1700H2237.1M1642 1596H2237.1M1642 1492H2237.1M1642 1388H2237.1M1669 1386.7V1833.4M1777.2 1386.7V1833.4M1885.5 1386.7V1833.4M1993.7 1386.7V1833.4M2101.8 1386.7V1833.4M2210.1 1386.7V1833.4" stroke="#FFFFFF" stroke-width="4.45" fill="none"/>
<polygon points="1669,1813.1 1777.2,1686.7 1885.5,1596.2 1993.7,1510.6 2101.8,1462.5 2210.1,1434.9 2210.1,1486 2101.8,1516 1993.7,1540.7 1885.5,1610.6 1777.2,1701.1 1669,1813.1" fill="#F35D58" fill-opacity="0.5"/>
<polyline points="1669,1813.1 1777.2,1686.7 1885.5,1596.2 1993.7,1510.6 2101.8,1462.5 2210.1,1434.9" fill="none" stroke="#F35D58" stroke-width="4.45" stroke-linejoin="round"/>
<polyline points="1669,1813.1 1777.2,1701.1 1885.5,1610.6 1993.7,1540.7 2101.8,1516 2210.1,1486" fill="none" stroke="#F35D58" stroke-width="4.45" stroke-linejoin="round"/>
<polygon points="1669,1813.1 1777.2,1684.7 1885.5,1567.4 1993.7,1513.9 2101.8,1453 2210.1,1469.5 2210.1,1501.6 2101.8,1521.3 1993.7,1535.7 1885.5,1600.3 1777.2,1697 1669,1813.1" fill="#6BA304" fill-opacity="0.5"/>
<polyline points="1669,1813.1 1777.2,1684.7 1885.5,1567.4 1993.7,1513.9 2101.8,1453 2210.1,1469.5" fill="none" stroke="#6BA304" stroke-width="4.45" stroke-linejoin="round"/>
<polyline points="1669,1813.1 1777.2,1697 1885.5,1600.3 1993.7,1535.7 2101.8,1521.3 2210.1,1501.6" fill="none" stroke="#6BA304" stroke-width="4.45" stroke-linejoin="round"/>
<polygon points="1669,1813.1 1777.2,1697 1885.5,1611.9 1993.7,1548.9 2101.8,1502.4 2210.1,1503.7 2210.1,1542.7 2101.8,1544.8 1993.7,1583.1 1885.5,1629.1 1777.2,1709.4 1669,1813.1" fill="#18B2B7" fill-opacity="0.5"/>
<polyline points="1669,1813.1 1777.2,1697 1885.5,1611.9 1993.7,1548.9 2101.8,1502.4 2210.1,1503.7" fill="none" stroke="#18B2B7" stroke-width="4.45" stroke-linejoin="round"/>
<polyline points="1669,1813.1 1777.2,1709.4 1885.5,1629.1 1993.7,1583.1 2101.8,1544.8 2210.1,1542.7" fill="none" stroke="#18B2B7" stroke-width="4.45" stroke-linejoin="round"/>
<polygon points="1669,1813.1 1777.2,1666.2 1885.5,1523 1993.7,1481 2101.8,1443.2 2210.1,1407 2210.1,1511.9 2101.8,1474.9 1993.7,1522.2 1885.5,1571.5 1777.2,1686.7 1669,1813.1" fill="#B75EFE" fill-opacity="0.5"/>
<polyline points="1669,1813.1 1777.2,1666.2 1885.5,1523 1993.7,1481 2101.8,1443.2 2210.1,1407" fill="none" stroke="#B75EFE" stroke-width="4.45" stroke-linejoin="round"/>
<polyline points="1669,1813.1 1777.2,1686.7 1885.5,1571.5 1993.7,1522.2 2101.8,1474.9 2210.1,1511.9" fill="none" stroke="#B75EFE" stroke-width="4.45" stroke-linejoin="round"/>
<polyline points="1669,1813.1 1777.2,1695 1885.5,1603.6 1993.7,1527.1 2101.8,1490.1 2210.1,1460.5" fill="none" stroke="#F35D58" stroke-width="4.45" stroke-linejoin="round"/>
<polyline points="1669,1813.1 1777.2,1690.9 1885.5,1581.8 1993.7,1523 2101.8,1487.2 2210.1,1485.1" fill="none" stroke="#6BA304" stroke-width="4.45" stroke-linejoin="round"/>
<polyline points="1669,1813.1 1777.2,1703.2 1885.5,1620.9 1993.7,1566.6 2101.8,1524.2 2210.1,1523" fill="none" stroke="#18B2B7" stroke-width="4.45" stroke-linejoin="round"/>
<polyline points="1669,1813.1 1777.2,1676.5 1885.5,1547.7 1993.7,1501.6 2101.8,1459.6 2210.1,1459.6" fill="none" stroke="#B75EFE" stroke-width="4.45" stroke-linejoin="round"/>
<path d="M1630.5 1804H1642M1630.5 1700H1642M1630.5 1596H1642M1630.5 1492H1642M1630.5 1388H1642" stroke="#232323" stroke-width="4.45" fill="none"/>
<text x="1620.5" y="1818.1" font-size="36.67" fill="#3A3A3A" text-anchor="end">0.00</text>
<text x="1620.5" y="1714.1" font-size="36.67" fill="#3A3A3A" text-anchor="end">0.03</text>
<text x="1620.5" y="1610.1" font-size="36.67" fill="#3A3A3A" text-anchor="end">0.06</text>
<text x="1620.5" y="1506.1" font-size="36.67" fill="#3A3A3A" text-anchor="end">0.09</text>
<text x="1620.5" y="1402.1" font-size="36.67" fill="#3A3A3A" text-anchor="end">0.12</text>
</g>
<g>
<rect x="189" y="1857" width="595.1" height="141" fill="#D0D0D0"/>
<text x="486.6" y="1906.1" font-size="36.67" fill="#0F0F0F" text-anchor="middle">MMD (grid)</text>
<text x="486.6" y="1976.2" font-size="36.67" fill="#0F0F0F" text-anchor="middle">Deep Ensemble</text>
<rect x="189" y="1998" width="595.1" height="446.7" fill="#E6E6E6"/>
<path d="M189 2327.4H784.1M189 2180.3H784.1M189 2033.2H784.1M270.2 1998V2444.7M378.4 1998V2444.7M486.6 1998V2444.7M594.8 1998V2444.7M703 1998V2444.7" stroke="#FFFFFF" stroke-width="2.22" fill="none"/>
<path d="M189 2400.9H784.1M189 2253.8H784.1M189 2106.8H784.1M216.1 1998V2444.7M324.2 1998V2444.7M432.5 1998V2444.7M540.7 1998V2444.7M648.9 1998V2444.7M757 1998V2444.7" stroke="#FFFFFF" stroke-width="4.45" fill="none"/>
<polygon points="216.1,2424.4 324.2,2252.8 432.5,2110.9 540.7,2152 648.9,2018.3 757,2055.3 757,2205.5 648.9,2211.7 540.7,2215 432.5,2215.8 324.2,2358.6 216.1,2424.4" fill="#F35D58" fill-opacity="0.5"/>
<polyline points="216.1,2424.4 324.2,2252.8 432.5,2110.9 540.7,2152 648.9,2018.3 757,2055.3" fill="none" stroke="#F35D58" stroke-width="4.45" stroke-linejoin="round"/>
<polyline points="216.1,2424.4 324.2,2358.6 432.5,2215.8 540.7,2215 648.9,2211.7 757,2205.5" fill="none" stroke="#F35D58" stroke-width="4.45" stroke-linejoin="round"/>
<polygon points="216.1,2424.4 324.2,2222 432.5,2127.3 540.7,2108 648.9,2036.8 757,2065.6 757,2191.1 648.9,2222.8 540.7,2207.6 432.5,2280.4 324.2,2331 216.1,2424.4" fill="#6BA304" fill-opacity="0.5"/>
<polyline points="216.1,2424.4 324.2,2222 432.5,2127.3 540.7,2108 648.9,2036.8 757,2065.6" fill="none" stroke="#6BA304" stroke-width="4.45" stroke-linejoin="round"/>
<polyline points="216.1,2424.4 324.2,2331 432.5,2280.4 540.7,2207.6 648.9,2222.8 757,2191.1" fill="none" stroke="#6BA304" stroke-width="4.45" stroke-linejoin="round"/>
<polygon points="216.1,2424.4 324.2,2269.3 432.5,2176.7 540.7,2154.1 648.9,2094.4 757,2069.7 757,2177.9 648.9,2201.4 540.7,2176.7 432.5,2280.4 324.2,2343.3 216.1,2424.4" fill="#18B2B7" fill-opacity="0.5"/>
<polyline points="216.1,2424.4 324.2,2269.3 432.5,2176.7 540.7,2154.1 648.9,2094.4 757,2069.7" fill="none" stroke="#18B2B7" stroke-width="4.45" stroke-linejoin="round"/>
<polyline points="216.1,2424.4 324.2,2343.3 432.5,2280.4 540.7,2176.7 648.9,2201.4 757,2177.9" fill="none" stroke="#18B2B7" stroke-width="4.45" stroke-linejoin="round"/>
<polygon points="216.1,2424.4 324.2,2399.7 432.5,2398.1 540.7,2394.8 648.9,2384.5 757,2376.2 757,2392.7 648.9,2394.8 540.7,2411.2 432.5,2412 324.2,2408.3 216.1,2424.4" fill="#B75EFE" fill-opacity="0.5"/>
<polyline points="216.1,2424.4 324.2,2399.7 432.5,2398.1 540.7,2394.8 648.9,2384.5 757,2376.2" fill="none" stroke="#B75EFE" stroke-width="4.45" stroke-linejoin="round"/>
<polyline points="216.1,2424.4 324.2,2408.3 432.5,2412 540.7,2411.2 648.9,2394.8 757,2392.7" fill="none" stroke="#B75EFE" stroke-width="4.45" stroke-linejoin="round"/>
<polyline points="216.1,2424.4 324.2,2306.3 432.5,2164.4 540.7,2184.9 648.9,2115 757,2129.4" fill="none" stroke="#F35D58" stroke-width="4.45" stroke-linejoin="round"/>
<polyline points="216.1,2424.4 324.2,2276.3 432.5,2203.4 540.7,2156.1 648.9,2130.2 757,2129.4" fill="none" stroke="#6BA304" stroke-width="4.45" stroke-linejoin="round"/>
<polyline points="216.1,2424.4 324.2,2306.3 432.5,2228.1 540.7,2164.4 648.9,2147.9 757,2124" fill="none" stroke="#18B2B7" stroke-width="4.45" stroke-linejoin="round"/>
<polyline points="216.1,2424.4 324.2,2403.8 432.5,2404.2 540.7,2402.2 648.9,2389.4 757,2384.5" fill="none" stroke="#B75EFE" stroke-width="4.45" stroke-linejoin="round"/>
<path d="M177.5 2400.9H189M177.5 2253.8H189M177.5 2106.8H189" stroke="#232323" stroke-width="4.45" fill="none"/>
<text x="167.5" y="2415" font-size="36.67" fill="#3A3A3A" text-anchor="end">0.000</text>
<text x="167.5" y="2267.9" font-size="36.67" fill="#3A3A3A" text-anchor="end">0.005</text>
<text x="167.5" y="2120.9" font-size="36.67" fill="#3A3A3A" text-anchor="end">0.010</text>
</g>
<g>
<rect x="911.3" y="1857" width="595.1" height="141" fill="#D0D0D0"/>
<text x="1208.8" y="1906.1" font-size="36.67" fill="#0F0F0F" text-anchor="middle">MMD (grid)</text>
<text x="1208.8" y="1976.2" font-size="36.67" fill="#0F0F0F" text-anchor="middle">Linear</text>
<rect x="911.3" y="1998" width="595.1" height="446.7" fill="#E6E6E6"/>
<path d="M911.3 2369.2H1506.4M911.3 2273H1506.4M911.3 2176.7H1506.4M911.3 2080.4H1506.4M992.4 1998V2444.7M1100.6 1998V2444.7M1208.8 1998V2444.7M1317 1998V2444.7M1425.2 1998V2444.7" stroke="#FFFFFF" stroke-width="2.22" fill="none"/>
<path d="M911.3 2417.4H1506.4M911.3 2321.1H1506.4M911.3 2224.8H1506.4M911.3 2128.6H1506.4M911.3 2032.3H1506.4M938.3 1998V2444.7M1046.5 1998V2444.7M1154.8 1998V2444.7M1262.9 1998V2444.7M1371.1 1998V2444.7M1479.3 1998V2444.7" stroke="#FFFFFF" stroke-width="4.45" fill="none"/>
<polygon points="938.3,2424.4 1046.5,2361.7 1154.8,2304 1262.9,2251.6 1371.1,2184.4 1479.3,2027.8 1479.3,2129.6 1371.1,2215.4 1262.9,2275.1 1154.8,2335.7 1046.5,2374.1 938.3,2424.4" fill="#F35D58" fill-opacity="0.5"/>
<polyline points="938.3,2424.4 1046.5,2361.7 1154.8,2304 1262.9,2251.6 1371.1,2184.4 1479.3,2027.8" fill="none" stroke="#F35D58" stroke-width="4.45" stroke-linejoin="round"/>
<polyline points="938.3,2424.4 1046.5,2374.1 1154.8,2335.7 1262.9,2275.1 1371.1,2215.4 1479.3,2129.6" fill="none" stroke="#F35D58" stroke-width="4.45" stroke-linejoin="round"/>
<polygon points="938.3,2424.4 1046.5,2363 1154.8,2314.3 1262.9,2256.6 1371.1,2190.6 1479.3,2018.3 1479.3,2147.3 1371.1,2226.9 1262.9,2279.3 1154.8,2330.8 1046.5,2374.1 938.3,2424.4" fill="#6BA304" fill-opacity="0.5"/>
<polyline points="938.3,2424.4 1046.5,2363 1154.8,2314.3 1262.9,2256.6 1371.1,2190.6 1479.3,2018.3" fill="none" stroke="#6BA304" stroke-width="4.45" stroke-linejoin="round"/>
<polyline points="938.3,2424.4 1046.5,2374.1 1154.8,2330.8 1262.9,2279.3 1371.1,2226.9 1479.3,2147.3" fill="none" stroke="#6BA304" stroke-width="4.45" stroke-linejoin="round"/>
<polygon points="938.3,2424.4 1046.5,2386.5 1154.8,2367.9 1262.9,2344 1371.1,2309.4 1479.3,2295.8 1479.3,2316.4 1371.1,2358.4 1262.9,2364.6 1154.8,2372.9 1046.5,2394.7 938.3,2424.4" fill="#18B2B7" fill-opacity="0.5"/>
<polyline points="938.3,2424.4 1046.5,2386.5 1154.8,2367.9 1262.9,2344 1371.1,2309.4 1479.3,2295.8" fill="none" stroke="#18B2B7" stroke-width="4.45" stroke-linejoin="round"/>
<polyline points="938.3,2424.4 1046.5,2394.7 1154.8,2372.9 1262.9,2364.6 1371.1,2358.4 1479.3,2316.4" fill="none" stroke="#18B2B7" stroke-width="4.45" stroke-linejoin="round"/>
<polygon points="938.3,2424.4 1046.5,2394.7 1154.8,2382.3 1262.9,2378.2 1371.1,2372 1479.3,2374.1 1479.3,2388.5 1371.1,2385.2 1262.9,2389.3 1154.8,2389.3 1046.5,2404.2 938.3,2424.4" fill="#B75EFE" fill-opacity="0.5"/>
<polyline points="938.3,2424.4 1046.5,2394.7 1154.8,2382.3 1262.9,2378.2 1371.1,2372 1479.3,2374.1" fill="none" stroke="#B75EFE" stroke-width="4.45" stroke-linejoin="round"/>
<polyline points="938.3,2424.4 1046.5,2404.2 1154.8,2389.3 1262.9,2389.3 1371.1,2385.2 1479.3,2388.5" fill="none" stroke="#B75EFE" stroke-width="4.45" stroke-linejoin="round"/>
<polyline points="938.3,2424.4 1046.5,2367.9 1154.8,2320.5 1262.9,2262.8 1371.1,2200.9 1479.3,2078.5" fill="none" stroke="#F35D58" stroke-width="4.45" stroke-linejoin="round"/>
<polyline points="938.3,2424.4 1046.5,2368.7 1154.8,2322.6 1262.9,2269 1371.1,2209.2 1479.3,2083.4" fill="none" stroke="#6BA304" stroke-width="4.45" stroke-linejoin="round"/>
<polyline points="938.3,2424.4 1046.5,2390.6 1154.8,2370 1262.9,2354.3 1371.1,2334.9 1479.3,2306.1" fill="none" stroke="#18B2B7" stroke-width="4.45" stroke-linejoin="round"/>
<polyline points="938.3,2424.4 1046.5,2399.6 1154.8,2385.6 1262.9,2383.6 1371.1,2378.2 1479.3,2381.1" fill="none" stroke="#B75EFE" stroke-width="4.45" stroke-linejoin="round"/>
<path d="M899.8 2417.4H911.3M899.8 2321.1H911.3M899.8 2224.8H911.3M899.8 2128.6H911.3M899.8 2032.3H911.3" stroke="#232323" stroke-width="4.45" fill="none"/>
<text x="889.8" y="2431.5" font-size="36.67" fill="#3A3A3A" text-anchor="end">0.00</text>
<text x="889.8" y="2335.2" font-size="36.67" fill="#3A3A3A" text-anchor="end">0.01</text>
<text x="889.8" y="2238.9" font-size="36.67" fill="#3A3A3A" text-anchor="end">0.02</text>
<text x="889.8" y="2142.7" font-size="36.67" fill="#3A3A3A" text-anchor="end">0.03</text>
<text x="889.8" y="2046.4" font-size="36.67" fill="#3A3A3A" text-anchor="end">0.04</text>
</g>
<g>
<rect x="1642" y="1857" width="595.1" height="141" fill="#D0D0D0"/>
<text x="1939.5" y="1906.1" font-size="36.67" fill="#0F0F0F" text-anchor="middle">MMD (grid)</text>
<text x="1939.5" y="1976.2" font-size="36.67" fill="#0F0F0F" text-anchor="middle">MLP</text>
<rect x="1642" y="1998" width="595.1" height="446.7" fill="#E6E6E6"/>
<path d="M1642 2350.9H2237.1M1642 2238.4H2237.1M1642 2126H2237.1M1642 2013.6H2237.1M1723.1 1998V2444.7M1831.3 1998V2444.7M1939.5 1998V2444.7M2047.8 1998V2444.7M2155.9 1998V2444.7" stroke="#FFFFFF" stroke-width="2.22" fill="none"/>
<path d="M1642 2407.1H2237.1M1642 2294.6H2237.1M1642 2182.2H2237.1M1642 2069.8H2237.1M1669 1998V2444.7M1777.2 1998V2444.7M1885.5 1998V2444.7M1993.7 1998V2444.7M2101.8 1998V2444.7M2210.1 1998V2444.7" stroke="#FFFFFF" stroke-width="4.45" fill="none"/>
<polygon points="1669,2424.4 1777.2,2295.8 1885.5,2096.6 1993.7,2062.8 2101.8,2057.9 2210.1,2069.8 2210.1,2182.4 2101.8,2200.9 1993.7,2213.3 1885.5,2258.7 1777.2,2347.3 1669,2424.4" fill="#F35D58" fill-opacity="0.5"/>
<polyline points="1669,2424.4 1777.2,2295.8 1885.5,2096.6 1993.7,2062.8 2101.8,2057.9 2210.1,2069.8" fill="none" stroke="#F35D58" stroke-width="4.45" stroke-linejoin="round"/>
<polyline points="1669,2424.4 1777.2,2347.3 1885.5,2258.7 1993.7,2213.3 2101.8,2200.9 2210.1,2182.4" fill="none" stroke="#F35D58" stroke-width="4.45" stroke-linejoin="round"/>
<polygon points="1669,2424.4 1777.2,2275.1 1885.5,2106.1 1993.7,2030.7 2101.8,2087.6 2210.1,2084.7 2210.1,2236 2101.8,2238 1993.7,2258.7 1885.5,2251.6 1777.2,2337 1669,2424.4" fill="#6BA304" fill-opacity="0.5"/>
<polyline points="1669,2424.4 1777.2,2275.1 1885.5,2106.1 1993.7,2030.7 2101.8,2087.6 2210.1,2084.7" fill="none" stroke="#6BA304" stroke-width="4.45" stroke-linejoin="round"/>
<polyline points="1669,2424.4 1777.2,2337 1885.5,2251.6 1993.7,2258.7 2101.8,2238 2210.1,2236" fill="none" stroke="#6BA304" stroke-width="4.45" stroke-linejoin="round"/>
<polygon points="1669,2424.4 1777.2,2326.7 1885.5,2151.5 1993.7,2076.4 2101.8,2133.7 2210.1,2018.3 2210.1,2238.9 2101.8,2226.9 1993.7,2226.9 1885.5,2281.3 1777.2,2347.3 1669,2424.4" fill="#18B2B7" fill-opacity="0.5"/>
<polyline points="1669,2424.4 1777.2,2326.7 1885.5,2151.5 1993.7,2076.4 2101.8,2133.7 2210.1,2018.3" fill="none" stroke="#18B2B7" stroke-width="4.45" stroke-linejoin="round"/>
<polyline points="1669,2424.4 1777.2,2347.3 1885.5,2281.3 1993.7,2226.9 2101.8,2226.9 2210.1,2238.9" fill="none" stroke="#18B2B7" stroke-width="4.45" stroke-linejoin="round"/>
<polygon points="1669,2424.4 1777.2,2407.9 1885.5,2400.1 1993.7,2402.9 2101.8,2407.1 2210.1,2398 2210.1,2414.1 2101.8,2412.4 1993.7,2417.4 1885.5,2418.2 1777.2,2412.4 1669,2424.4" fill="#B75EFE" fill-opacity="0.5"/>
<polyline points="1669,2424.4 1777.2,2407.9 1885.5,2400.1 1993.7,2402.9 2101.8,2407.1 2210.1,2398" fill="none" stroke="#B75EFE" stroke-width="4.45" stroke-linejoin="round"/>
<polyline points="1669,2424.4 1777.2,2412.4 1885.5,2418.2 1993.7,2417.4 2101.8,2412.4 2210.1,2414.1" fill="none" stroke="#B75EFE" stroke-width="4.45" stroke-linejoin="round"/>
<polyline points="1669,2424.4 1777.2,2322.6 1885.5,2178.3 1993.7,2137.9 2101.8,2129.6 2210.1,2126.7" fill="none" stroke="#F35D58" stroke-width="4.45" stroke-linejoin="round"/>
<polyline points="1669,2424.4 1777.2,2306.1 1885.5,2179.1 1993.7,2145.3 2101.8,2163 2210.1,2159.7" fill="none" stroke="#6BA304" stroke-width="4.45" stroke-linejoin="round"/>
<polyline points="1669,2424.4 1777.2,2337 1885.5,2216.2 1993.7,2151.5 2101.8,2180.3 2210.1,2128.8" fill="none" stroke="#18B2B7" stroke-width="4.45" stroke-linejoin="round"/>
<polyline points="1669,2424.4 1777.2,2410 1885.5,2409.1 1993.7,2410 2101.8,2410 2210.1,2406.2" fill="none" stroke="#B75EFE" stroke-width="4.45" stroke-linejoin="round"/>
<path d="M1630.5 2407.1H1642M1630.5 2294.6H1642M1630.5 2182.2H1642M1630.5 2069.8H1642" stroke="#232323" stroke-width="4.45" fill="none"/>
<text x="1620.5" y="2421.2" font-size="36.67" fill="#3A3A3A" text-anchor="end">0.000</text>
<text x="1620.5" y="2308.7" font-size="36.67" fill="#3A3A3A" text-anchor="end">0.005</text>
<text x="1620.5" y="2196.3" font-size="36.67" fill="#3A3A3A" text-anchor="end">0.010</text>
<text x="1620.5" y="2083.9" font-size="36.67" fill="#3A3A3A" text-anchor="end">0.015</text>
</g>
<g>
<rect x="189" y="2468.3" width="595.1" height="141" fill="#D0D0D0"/>
<text x="486.6" y="2517.4" font-size="36.67" fill="#0F0F0F" text-anchor="middle">MMD (model)</text>
<text x="486.6" y="2587.5" font-size="36.67" fill="#0F0F0F" text-anchor="middle">Deep Ensemble</text>
<rect x="189" y="2609.3" width="595.1" height="446.7" fill="#E6E6E6"/>
<path d="M189 2959.3H784.1M189 2842.7H784.1M189 2726.1H784.1M270.2 2609.3V3056M378.4 2609.3V3056M486.6 2609.3V3056M594.8 2609.3V3056M703 2609.3V3056" stroke="#FFFFFF" stroke-width="2.22" fill="none"/>
<path d="M189 3017.6H784.1M189 2901H784.1M189 2784.4H784.1M189 2667.8H784.1M216.1 2609.3V3056M324.2 2609.3V3056M432.5 2609.3V3056M540.7 2609.3V3056M648.9 2609.3V3056M757 2609.3V3056" stroke="#FFFFFF" stroke-width="4.45" fill="none"/>
<polygon points="216.1,3035.7 324.2,2872.7 432.5,2751.6 540.7,2674.8 648.9,2642.8 757,2644.8 757,2883 648.9,2878.9 540.7,2862.4 432.5,2844.8 324.2,2917 216.1,3035.7" fill="#F35D58" fill-opacity="0.5"/>
<polyline points="216.1,3035.7 324.2,2872.7 432.5,2751.6 540.7,2674.8 648.9,2642.8 757,2644.8" fill="none" stroke="#F35D58" stroke-width="4.45" stroke-linejoin="round"/>
<polyline points="216.1,3035.7 324.2,2917 432.5,2844.8 540.7,2862.4 648.9,2878.9 757,2883" fill="none" stroke="#F35D58" stroke-width="4.45" stroke-linejoin="round"/>
<polygon points="216.1,3035.7 324.2,2862.4 432.5,2752.8 540.7,2671.5 648.9,2639.9 757,2629.6 757,2876.8 648.9,2870.7 540.7,2856.3 432.5,2834.9 324.2,2917.9 216.1,3035.7" fill="#6BA304" fill-opacity="0.5"/>
<polyline points="216.1,3035.7 324.2,2862.4 432.5,2752.8 540.7,2671.5 648.9,2639.9 757,2629.6" fill="none" stroke="#6BA304" stroke-width="4.45" stroke-linejoin="round"/>
<polyline points="216.1,3035.7 324.2,2917.9 432.5,2834.9 540.7,2856.3 648.9,2870.7 757,2876.8" fill="none" stroke="#6BA304" stroke-width="4.45" stroke-linejoin="round"/>
<polygon points="216.1,3035.7 324.2,2951.5 432.5,2894.1 540.7,2867.8 648.9,2857.1 757,2851.4 757,2887.1 648.9,2889.9 540.7,2903.5 432.5,2932.2 324.2,2985.6 216.1,3035.7" fill="#18B2B7" fill-opacity="0.5"/>
<polyline points="216.1,3035.7 324.2,2951.5 432.5,2894.1 540.7,2867.8 648.9,2857.1 757,2851.4" fill="none" stroke="#18B2B7" stroke-width="4.45" stroke-linejoin="round"/>
<polyline points="216.1,3035.7 324.2,2985.6 432.5,2932.2 540.7,2903.5 648.9,2889.9 757,2887.1" fill="none" stroke="#18B2B7" stroke-width="4.45" stroke-linejoin="round"/>
<polygon points="216.1,3035.7 324.2,2964.3 432.5,2937.6 540.7,2939.6 648.9,2943.3 757,2943.7 757,2964.3 648.9,2965.1 540.7,2970 432.5,2977.4 324.2,3006.2 216.1,3035.7" fill="#B75EFE" fill-opacity="0.5"/>
<polyline points="216.1,3035.7 324.2,2964.3 432.5,2937.6 540.7,2939.6 648.9,2943.3 757,2943.7" fill="none" stroke="#B75EFE" stroke-width="4.45" stroke-linejoin="round"/>
<polyline points="216.1,3035.7 324.2,3006.2 432.5,2977.4 540.7,2970 648.9,2965.1 757,2964.3" fill="none" stroke="#B75EFE" stroke-width="4.45" stroke-linejoin="round"/>
<polyline points="216.1,3035.7 324.2,2894.5 432.5,2798.8 540.7,2770.1 648.9,2761 757,2763.9" fill="none" stroke="#F35D58" stroke-width="4.45" stroke-linejoin="round"/>
<polyline points="216.1,3035.7 324.2,2889.1 432.5,2793.9 540.7,2763.9 648.9,2754.9 757,2753.6" fill="none" stroke="#6BA304" stroke-width="4.45" stroke-linejoin="round"/>
<polyline points="216.1,3035.7 324.2,2968.4 432.5,2913.8 540.7,2885.8 648.9,2873.5 757,2869.4" fill="none" stroke="#18B2B7" stroke-width="4.45" stroke-linejoin="round"/>
<polyline points="216.1,3035.7 324.2,2985.6 432.5,2956.9 540.7,2954.8 648.9,2954 757,2954" fill="none" stroke="#B75EFE" stroke-width="4.45" stroke-linejoin="round"/>
<path d="M177.5 3017.6H189M177.5 2901H189M177.5 2784.4H189M177.5 2667.8H189" stroke="#232323" stroke-width="4.45" fill="none"/>
<text x="167.5" y="3031.7" font-size="36.67" fill="#3A3A3A" text-anchor="end">0.000</text>
<text x="167.5" y="2915.1" font-size="36.67" fill="#3A3A3A" text-anchor="end">0.005</text>
<text x="167.5" y="2798.5" font-size="36.67" fill="#3A3A3A" text-anchor="end">0.010</text>
<text x="167.5" y="2681.9" font-size="36.67" fill="#3A3A3A" text-anchor="end">0.015</text>
</g>
<g>
<rect x="911.3" y="2468.3" width="595.1" height="141" fill="#D0D0D0"/>
<text x="1208.8" y="2517.4" font-size="36.67" fill="#0F0F0F" text-anchor="middle">MMD (model)</text>
<text x="1208.8" y="2587.5" font-size="36.67" fill="#0F0F0F" text-anchor="middle">Linear</text>
<rect x="911.3" y="2609.3" width="595.1" height="446.7" fill="#E6E6E6"/>
<path d="M911.3 2974.2H1506.4M911.3 2859.4H1506.4M911.3 2744.6H1506.4M911.3 2629.8H1506.4M992.4 2609.3V3056M1100.6 2609.3V3056M1208.8 2609.3V3056M1317 2609.3V3056M1425.2 2609.3V3056" stroke="#FFFFFF" stroke-width="2.22" fill="none"/>
<path d="M911.3 3031.6H1506.4M911.3 2916.8H1506.4M911.3 2802H1506.4M911.3 2687.2H1506.4M938.3 2609.3V3056M1046.5 2609.3V3056M1154.8 2609.3V3056M1262.9 2609.3V3056M1371.1 2609.3V3056M1479.3 2609.3V3056" stroke="#FFFFFF" stroke-width="4.45" fill="none"/>
<polygon points="938.3,3035.7 1046.5,3002 1154.8,2956.7 1262.9,2897.9 1371.1,2803.3 1479.3,2646.1 1479.3,2740.7 1371.1,2848.9 1262.9,2923.8 1154.8,2967 1046.5,3004.9 938.3,3035.7" fill="#F35D58" fill-opacity="0.5"/>
<polyline points="938.3,3035.7 1046.5,3002 1154.8,2956.7 1262.9,2897.9 1371.1,2803.3 1479.3,2646.1" fill="none" stroke="#F35D58" stroke-width="4.45" stroke-linejoin="round"/>
<polyline points="938.3,3035.7 1046.5,3004.9 1154.8,2967 1262.9,2923.8 1371.1,2848.9 1479.3,2740.7" fill="none" stroke="#F35D58" stroke-width="4.45" stroke-linejoin="round"/>
<polygon points="938.3,3035.7 1046.5,3001.2 1154.8,2953.8 1262.9,2892.9 1371.1,2793.4 1479.3,2629.6 1479.3,2726.3 1371.1,2843.6 1262.9,2920.9 1154.8,2964.9 1046.5,3004 938.3,3035.7" fill="#6BA304" fill-opacity="0.5"/>
<polyline points="938.3,3035.7 1046.5,3001.2 1154.8,2953.8 1262.9,2892.9 1371.1,2793.4 1479.3,2629.6" fill="none" stroke="#6BA304" stroke-width="4.45" stroke-linejoin="round"/>
<polyline points="938.3,3035.7 1046.5,3004 1154.8,2964.9 1262.9,2920.9 1371.1,2843.6 1479.3,2726.3" fill="none" stroke="#6BA304" stroke-width="4.45" stroke-linejoin="round"/>
<polygon points="938.3,3035.7 1046.5,3017.2 1154.8,2995.8 1262.9,2977.3 1371.1,2960.8 1479.3,2944.4 1479.3,2966.2 1371.1,2976.1 1262.9,2989.6 1154.8,3002.4 1046.5,3019.7 938.3,3035.7" fill="#18B2B7" fill-opacity="0.5"/>
<polyline points="938.3,3035.7 1046.5,3017.2 1154.8,2995.8 1262.9,2977.3 1371.1,2960.8 1479.3,2944.4" fill="none" stroke="#18B2B7" stroke-width="4.45" stroke-linejoin="round"/>
<polyline points="938.3,3035.7 1046.5,3019.7 1154.8,3002.4 1262.9,2989.6 1371.1,2976.1 1479.3,2966.2" fill="none" stroke="#18B2B7" stroke-width="4.45" stroke-linejoin="round"/>
<polygon points="938.3,3035.7 1046.5,3020.5 1154.8,3007.3 1262.9,3006.1 1371.1,3004.9 1479.3,3004 1479.3,3011 1371.1,3011 1262.9,3011.4 1154.8,3013.5 1046.5,3023.4 938.3,3035.7" fill="#B75EFE" fill-opacity="0.5"/>
<polyline points="938.3,3035.7 1046.5,3020.5 1154.8,3007.3 1262.9,3006.1 1371.1,3004.9 1479.3,3004" fill="none" stroke="#B75EFE" stroke-width="4.45" stroke-linejoin="round"/>
<polyline points="938.3,3035.7 1046.5,3023.4 1154.8,3013.5 1262.9,3011.4 1371.1,3011 1479.3,3011" fill="none" stroke="#B75EFE" stroke-width="4.45" stroke-linejoin="round"/>
<polyline points="938.3,3035.7 1046.5,3003.2 1154.8,2962.1 1262.9,2911.5 1371.1,2826.3 1479.3,2693.4" fill="none" stroke="#F35D58" stroke-width="4.45" stroke-linejoin="round"/>
<polyline points="938.3,3035.7 1046.5,3002.8 1154.8,2959.6 1262.9,2907.3 1371.1,2818.9 1479.3,2678.2" fill="none" stroke="#6BA304" stroke-width="4.45" stroke-linejoin="round"/>
<polyline points="938.3,3035.7 1046.5,3018.4 1154.8,2999.1 1262.9,2983.5 1371.1,2968.2 1479.3,2955.5" fill="none" stroke="#18B2B7" stroke-width="4.45" stroke-linejoin="round"/>
<polyline points="938.3,3035.7 1046.5,3021.7 1154.8,3010.2 1262.9,3009 1371.1,3008.1 1479.3,3008.1" fill="none" stroke="#B75EFE" stroke-width="4.45" stroke-linejoin="round"/>
<path d="M899.8 3031.6H911.3M899.8 2916.8H911.3M899.8 2802H911.3M899.8 2687.2H911.3" stroke="#232323" stroke-width="4.45" fill="none"/>
<text x="889.8" y="3045.7" font-size="36.67" fill="#3A3A3A" text-anchor="end">0.00</text>
<text x="889.8" y="2930.9" font-size="36.67" fill="#3A3A3A" text-anchor="end">0.02</text>
<text x="889.8" y="2816.1" font-size="36.67" fill="#3A3A3A" text-anchor="end">0.04</text>
<text x="889.8" y="2701.3" font-size="36.67" fill="#3A3A3A" text-anchor="end">0.06</text>
</g>
<g>
<rect x="1642" y="2468.3" width="595.1" height="141" fill="#D0D0D0"/>
<text x="1939.5" y="2517.4" font-size="36.67" fill="#0F0F0F" text-anchor="middle">MMD (model)</text>
<text x="1939.5" y="2587.5" font-size="36.67" fill="#0F0F0F" text-anchor="middle">MLP</text>
<rect x="1642" y="2609.3" width="595.1" height="446.7" fill="#E6E6E6"/>
<path d="M1642 2975.4H2237.1M1642 2883.5H2237.1M1642 2791.6H2237.1M1642 2699.8H2237.1M1723.1 2609.3V3056M1831.3 2609.3V3056M1939.5 2609.3V3056M2047.8 2609.3V3056M2155.9 2609.3V3056" stroke="#FFFFFF" stroke-width="2.22" fill="none"/>
<path d="M1642 3021.3H2237.1M1642 2929.4H2237.1M1642 2837.6H2237.1M1642 2745.7H2237.1M1642 2653.8H2237.1M1669 2609.3V3056M1777.2 2609.3V3056M1885.5 2609.3V3056M1993.7 2609.3V3056M2101.8 2609.3V3056M2210.1 2609.3V3056" stroke="#FFFFFF" stroke-width="4.45" fill="none"/>
<polygon points="1669,3035.7 1777.2,2917.6 1885.5,2831.2 1993.7,2783.9 2101.8,2766.2 2210.1,2767.5 2210.1,2912.7 2101.8,2909.4 1993.7,2904.5 1885.5,2895 1777.2,2956.7 1669,3035.7" fill="#F35D58" fill-opacity="0.5"/>
<polyline points="1669,3035.7 1777.2,2917.6 1885.5,2831.2 1993.7,2783.9 2101.8,2766.2 2210.1,2767.5" fill="none" stroke="#F35D58" stroke-width="4.45" stroke-linejoin="round"/>
<polyline points="1669,3035.7 1777.2,2956.7 1885.5,2895 1993.7,2904.5 2101.8,2909.4 2210.1,2912.7" fill="none" stroke="#F35D58" stroke-width="4.45" stroke-linejoin="round"/>
<polygon points="1669,3035.7 1777.2,2915.6 1885.5,2823 1993.7,2762.1 2101.8,2683.1 2210.1,2629.6 2210.1,2977.3 2101.8,2948.5 1993.7,2921.7 1885.5,2903.2 1777.2,2959.6 1669,3035.7" fill="#6BA304" fill-opacity="0.5"/>
<polyline points="1669,3035.7 1777.2,2915.6 1885.5,2823 1993.7,2762.1 2101.8,2683.1 2210.1,2629.6" fill="none" stroke="#6BA304" stroke-width="4.45" stroke-linejoin="round"/>
<polyline points="1669,3035.7 1777.2,2959.6 1885.5,2903.2 1993.7,2921.7 2101.8,2948.5 2210.1,2977.3" fill="none" stroke="#6BA304" stroke-width="4.45" stroke-linejoin="round"/>
<polygon points="1669,3035.7 1777.2,2955.5 1885.5,2888.8 1993.7,2859.2 2101.8,2848.9 2210.1,2843.6 2210.1,2914.3 2101.8,2918.5 1993.7,2926.7 1885.5,2932 1777.2,2989.6 1669,3035.7" fill="#18B2B7" fill-opacity="0.5"/>
<polyline points="1669,3035.7 1777.2,2955.5 1885.5,2888.8 1993.7,2859.2 2101.8,2848.9 2210.1,2843.6" fill="none" stroke="#18B2B7" stroke-width="4.45" stroke-linejoin="round"/>
<polyline points="1669,3035.7 1777.2,2989.6 1885.5,2932 1993.7,2926.7 2101.8,2918.5 2210.1,2914.3" fill="none" stroke="#18B2B7" stroke-width="4.45" stroke-linejoin="round"/>
<polygon points="1669,3035.7 1777.2,2993.7 1885.5,2963.7 1993.7,2960.8 2101.8,2960 2210.1,2960 2210.1,2975.2 2101.8,2977.3 1993.7,2980.2 1885.5,2986.8 1777.2,3010.2 1669,3035.7" fill="#B75EFE" fill-opacity="0.5"/>
<polyline points="1669,3035.7 1777.2,2993.7 1885.5,2963.7 1993.7,2960.8 2101.8,2960 2210.1,2960" fill="none" stroke="#B75EFE" stroke-width="4.45" stroke-linejoin="round"/>
<polyline points="1669,3035.7 1777.2,3010.2 1885.5,2986.8 1993.7,2980.2 2101.8,2977.3 2210.1,2975.2" fill="none" stroke="#B75EFE" stroke-width="4.45" stroke-linejoin="round"/>
<polyline points="1669,3035.7 1777.2,2936.1 1885.5,2864.1 1993.7,2843.6 2101.8,2838.2 2210.1,2840.3" fill="none" stroke="#F35D58" stroke-width="4.45" stroke-linejoin="round"/>
<polyline points="1669,3035.7 1777.2,2937.4 1885.5,2862.9 1993.7,2841.5 2101.8,2815.6 2210.1,2803.3" fill="none" stroke="#6BA304" stroke-width="4.45" stroke-linejoin="round"/>
<polyline points="1669,3035.7 1777.2,2973.2 1885.5,2910.2 1993.7,2892.9 2101.8,2883.9 2210.1,2878.5" fill="none" stroke="#18B2B7" stroke-width="4.45" stroke-linejoin="round"/>
<polyline points="1669,3035.7 1777.2,3002 1885.5,2975.2 1993.7,2971.9 2101.8,2969.1 2210.1,2968.2" fill="none" stroke="#B75EFE" stroke-width="4.45" stroke-linejoin="round"/>
<path d="M1630.5 3021.3H1642M1630.5 2929.4H1642M1630.5 2837.6H1642M1630.5 2745.7H1642M1630.5 2653.8H1642" stroke="#232323" stroke-width="4.45" fill="none"/>
<text x="1620.5" y="3035.4" font-size="36.67" fill="#3A3A3A" text-anchor="end">0.000</text>
<text x="1620.5" y="2943.5" font-size="36.67" fill="#3A3A3A" text-anchor="end">0.005</text>
<text x="1620.5" y="2851.7" font-size="36.67" fill="#3A3A3A" text-anchor="end">0.010</text>
<text x="1620.5" y="2759.8" font-size="36.67" fill="#3A3A3A" text-anchor="end">0.015</text>
<text x="1620.5" y="2667.9" font-size="36.67" fill="#3A3A3A" text-anchor="end">0.020</text>
</g>
<g>
<rect x="189" y="3079.7" width="595.1" height="141" fill="#D0D0D0"/>
<text x="486.6" y="3128.8" font-size="36.67" fill="#0F0F0F" text-anchor="middle">Performance</text>
<text x="486.6" y="3198.8" font-size="36.67" fill="#0F0F0F" text-anchor="middle">Deep Ensemble</text>
<rect x="189" y="3220.7" width="595.1" height="446.7" fill="#E6E6E6"/>
<path d="M189 3311.9H784.1M189 3453.7H784.1M189 3595.5H784.1M270.2 3220.7V3667.3M378.4 3220.7V3667.3M486.6 3220.7V3667.3M594.8 3220.7V3667.3M703 3220.7V3667.3" stroke="#FFFFFF" stroke-width="2.22" fill="none"/>
<path d="M189 3241H784.1M189 3382.8H784.1M189 3524.6H784.1M189 3666.4H784.1M216.1 3220.7V3667.3M324.2 3220.7V3667.3M432.5 3220.7V3667.3M540.7 3220.7V3667.3M648.9 3220.7V3667.3M757 3220.7V3667.3" stroke="#FFFFFF" stroke-width="4.45" fill="none"/>
<polygon points="216.1,3241 324.2,3383.3 432.5,3403.8 540.7,3357.4 648.9,3347.6 757,3356.6 757,3615.1 648.9,3610.9 540.7,3614.2 432.5,3508.4 324.2,3426.4 216.1,3241" fill="#F35D58" fill-opacity="0.5"/>
<polyline points="216.1,3241 324.2,3383.3 432.5,3403.8 540.7,3357.4 648.9,3347.6 757,3356.6" fill="none" stroke="#F35D58" stroke-width="4.45" stroke-linejoin="round"/>
<polyline points="216.1,3241 324.2,3426.4 432.5,3508.4 540.7,3614.2 648.9,3610.9 757,3615.1" fill="none" stroke="#F35D58" stroke-width="4.45" stroke-linejoin="round"/>
<polygon points="216.1,3241 324.2,3382.1 432.5,3404.6 540.7,3373.9 648.9,3356.6 757,3345.1 757,3643.8 648.9,3647 540.7,3598.6 432.5,3507.6 324.2,3443.6 216.1,3241" fill="#6BA304" fill-opacity="0.5"/>
<polyline points="216.1,3241 324.2,3382.1 432.5,3404.6 540.7,3373.9 648.9,3356.6 757,3345.1" fill="none" stroke="#6BA304" stroke-width="4.45" stroke-linejoin="round"/>
<polyline points="216.1,3241 324.2,3443.6 432.5,3507.6 540.7,3598.6 648.9,3647 757,3643.8" fill="none" stroke="#6BA304" stroke-width="4.45" stroke-linejoin="round"/>
<polygon points="216.1,3241 324.2,3349.2 432.5,3357.4 540.7,3358.7 648.9,3359.5 757,3359.9 757,3421.4 648.9,3421.4 540.7,3421.4 432.5,3410 324.2,3388.6 216.1,3241" fill="#18B2B7" fill-opacity="0.5"/>
<polyline points="216.1,3241 324.2,3349.2 432.5,3357.4 540.7,3358.7 648.9,3359.5 757,3359.9" fill="none" stroke="#18B2B7" stroke-width="4.45" stroke-linejoin="round"/>
<polyline points="216.1,3241 324.2,3388.6 432.5,3410 540.7,3421.4 648.9,3421.4 757,3421.4" fill="none" stroke="#18B2B7" stroke-width="4.45" stroke-linejoin="round"/>
<polygon points="216.1,3241 324.2,3274.6 432.5,3339.4 540.7,3346.4 648.9,3339 757,3323 757,3373 648.9,3371 540.7,3348.8 432.5,3370.2 324.2,3334.9 216.1,3241" fill="#B75EFE" fill-opacity="0.5"/>
<polyline points="216.1,3241 324.2,3274.6 432.5,3339.4 540.7,3346.4 648.9,3339 757,3323" fill="none" stroke="#B75EFE" stroke-width="4.45" stroke-linejoin="round"/>
<polyline points="216.1,3241 324.2,3334.9 432.5,3370.2 540.7,3348.8 648.9,3371 757,3373" fill="none" stroke="#B75EFE" stroke-width="4.45" stroke-linejoin="round"/>
<polyline points="216.1,3241 324.2,3405.9 432.5,3456.3 540.7,3485.8 648.9,3479.7 757,3486.2" fill="none" stroke="#F35D58" stroke-width="4.45" stroke-linejoin="round"/>
<polyline points="216.1,3241 324.2,3412.8 432.5,3457.1 540.7,3486.7 648.9,3501 757,3494" fill="none" stroke="#6BA304" stroke-width="4.45" stroke-linejoin="round"/>
<polyline points="216.1,3241 324.2,3368.9 432.5,3383.3 540.7,3390.7 648.9,3390.7 757,3390.7" fill="none" stroke="#18B2B7" stroke-width="4.45" stroke-linejoin="round"/>
<polyline points="216.1,3241 324.2,3305.4 432.5,3356.6 540.7,3347.6 648.9,3355.8 757,3348.4" fill="none" stroke="#B75EFE" stroke-width="4.45" stroke-linejoin="round"/>
<path d="M177.5 3241H189M177.5 3382.8H189M177.5 3524.6H189M177.5 3666.4H189" stroke="#232323" stroke-width="4.45" fill="none"/>
<text x="167.5" y="3255.1" font-size="36.67" fill="#3A3A3A" text-anchor="end">0.00</text>
<text x="167.5" y="3396.9" font-size="36.67" fill="#3A3A3A" text-anchor="end">-0.02</text>
<text x="167.5" y="3538.7" font-size="36.67" fill="#3A3A3A" text-anchor="end">-0.04</text>
<text x="167.5" y="3680.5" font-size="36.67" fill="#3A3A3A" text-anchor="end">-0.06</text>
</g>
<g>
<rect x="911.3" y="3079.7" width="595.1" height="141" fill="#D0D0D0"/>
<text x="1208.8" y="3128.8" font-size="36.67" fill="#0F0F0F" text-anchor="middle">Performance</text>
<text x="1208.8" y="3198.8" font-size="36.67" fill="#0F0F0F" text-anchor="middle">Linear</text>
<rect x="911.3" y="3220.7" width="595.1" height="446.7" fill="#E6E6E6"/>
<path d="M911.3 3327.2H1506.4M911.3 3470.7H1506.4M911.3 3614.3H1506.4M992.4 3220.7V3667.3M1100.6 3220.7V3667.3M1208.8 3220.7V3667.3M1317 3220.7V3667.3M1425.2 3220.7V3667.3" stroke="#FFFFFF" stroke-width="2.22" fill="none"/>
<path d="M911.3 3255.4H1506.4M911.3 3398.9H1506.4M911.3 3542.5H1506.4M938.3 3220.7V3667.3M1046.5 3220.7V3667.3M1154.8 3220.7V3667.3M1262.9 3220.7V3667.3M1371.1 3220.7V3667.3M1479.3 3220.7V3667.3" stroke="#FFFFFF" stroke-width="4.45" fill="none"/>
<polygon points="938.3,3255.4 1046.5,3293.2 1154.8,3330.2 1262.9,3387.8 1371.1,3443.4 1479.3,3549.5 1479.3,3625.7 1371.1,3461.9 1262.9,3445.4 1154.8,3375.5 1046.5,3301.4 938.3,3255.4" fill="#F35D58" fill-opacity="0.5"/>
<polyline points="938.3,3255.4 1046.5,3293.2 1154.8,3330.2 1262.9,3387.8 1371.1,3443.4 1479.3,3549.5" fill="none" stroke="#F35D58" stroke-width="4.45" stroke-linejoin="round"/>
<polyline points="938.3,3255.4 1046.5,3301.4 1154.8,3375.5 1262.9,3445.4 1371.1,3461.9 1479.3,3625.7" fill="none" stroke="#F35D58" stroke-width="4.45" stroke-linejoin="round"/>
<polygon points="938.3,3255.4 1046.5,3293.2 1154.8,3330.2 1262.9,3413.8 1371.1,3441.3 1479.3,3565.6 1479.3,3647 1371.1,3481.6 1262.9,3455.7 1154.8,3375.5 1046.5,3302.7 938.3,3255.4" fill="#6BA304" fill-opacity="0.5"/>
<polyline points="938.3,3255.4 1046.5,3293.2 1154.8,3330.2 1262.9,3413.8 1371.1,3441.3 1479.3,3565.6" fill="none" stroke="#6BA304" stroke-width="4.45" stroke-linejoin="round"/>
<polyline points="938.3,3255.4 1046.5,3302.7 1154.8,3375.5 1262.9,3455.7 1371.1,3481.6 1479.3,3647" fill="none" stroke="#6BA304" stroke-width="4.45" stroke-linejoin="round"/>
<polygon points="938.3,3255.4 1046.5,3282.9 1154.8,3286.2 1262.9,3296.5 1371.1,3356.2 1479.3,3372.6 1479.3,3373.4 1371.1,3372.6 1262.9,3350 1154.8,3300.6 1046.5,3298.6 938.3,3255.4" fill="#18B2B7" fill-opacity="0.5"/>
<polyline points="938.3,3255.4 1046.5,3282.9 1154.8,3286.2 1262.9,3296.5 1371.1,3356.2 1479.3,3372.6" fill="none" stroke="#18B2B7" stroke-width="4.45" stroke-linejoin="round"/>
<polyline points="938.3,3255.4 1046.5,3298.6 1154.8,3300.6 1262.9,3350 1371.1,3372.6 1479.3,3373.4" fill="none" stroke="#18B2B7" stroke-width="4.45" stroke-linejoin="round"/>
<polygon points="938.3,3255.4 1046.5,3241 1154.8,3268.5 1262.9,3268.5 1371.1,3271.4 1479.3,3271.8 1479.3,3287.4 1371.1,3287 1262.9,3285 1154.8,3285 1046.5,3265.2 938.3,3255.4" fill="#B75EFE" fill-opacity="0.5"/>
<polyline points="938.3,3255.4 1046.5,3241 1154.8,3268.5 1262.9,3268.5 1371.1,3271.4 1479.3,3271.8" fill="none" stroke="#B75EFE" stroke-width="4.45" stroke-linejoin="round"/>
<polyline points="938.3,3255.4 1046.5,3265.2 1154.8,3285 1262.9,3285 1371.1,3287 1479.3,3287.4" fill="none" stroke="#B75EFE" stroke-width="4.45" stroke-linejoin="round"/>
<polyline points="938.3,3255.4 1046.5,3297.3 1154.8,3352.9 1262.9,3416.6 1371.1,3452.4 1479.3,3587.4" fill="none" stroke="#F35D58" stroke-width="4.45" stroke-linejoin="round"/>
<polyline points="938.3,3255.4 1046.5,3298.1 1154.8,3352.9 1262.9,3435.2 1371.1,3461.1 1479.3,3605.9" fill="none" stroke="#6BA304" stroke-width="4.45" stroke-linejoin="round"/>
<polyline points="938.3,3255.4 1046.5,3290.3 1154.8,3293.2 1262.9,3323.2 1371.1,3364.4 1479.3,3373" fill="none" stroke="#18B2B7" stroke-width="4.45" stroke-linejoin="round"/>
<polyline points="938.3,3255.4 1046.5,3252.9 1154.8,3276.7 1262.9,3276.7 1371.1,3278.8 1479.3,3279.6" fill="none" stroke="#B75EFE" stroke-width="4.45" stroke-linejoin="round"/>
<path d="M899.8 3255.4H911.3M899.8 3398.9H911.3M899.8 3542.5H911.3" stroke="#232323" stroke-width="4.45" fill="none"/>
<text x="889.8" y="3269.5" font-size="36.67" fill="#3A3A3A" text-anchor="end">0.00</text>
<text x="889.8" y="3413" font-size="36.67" fill="#3A3A3A" text-anchor="end">-0.05</text>
<text x="889.8" y="3556.6" font-size="36.67" fill="#3A3A3A" text-anchor="end">-0.10</text>
</g>
<g>
<rect x="1642" y="3079.7" width="595.1" height="141" fill="#D0D0D0"/>
<text x="1939.5" y="3128.8" font-size="36.67" fill="#0F0F0F" text-anchor="middle">Performance</text>
<text x="1939.5" y="3198.8" font-size="36.67" fill="#0F0F0F" text-anchor="middle">MLP</text>
<rect x="1642" y="3220.7" width="595.1" height="446.7" fill="#E6E6E6"/>
<path d="M1642 3319.4H2237.1M1642 3455.9H2237.1M1642 3592.4H2237.1M1723.1 3220.7V3667.3M1831.3 3220.7V3667.3M1939.5 3220.7V3667.3M2047.8 3220.7V3667.3M2155.9 3220.7V3667.3" stroke="#FFFFFF" stroke-width="2.22" fill="none"/>
<path d="M1642 3251.2H2237.1M1642 3387.7H2237.1M1642 3524.2H2237.1M1642 3660.6H2237.1M1669 3220.7V3667.3M1777.2 3220.7V3667.3M1885.5 3220.7V3667.3M1993.7 3220.7V3667.3M2101.8 3220.7V3667.3M2210.1 3220.7V3667.3" stroke="#FFFFFF" stroke-width="4.45" fill="none"/>
<polygon points="1669,3251.2 1777.2,3323 1885.5,3377.1 1993.7,3368.9 2101.8,3346.4 2210.1,3338.2 2210.1,3525.6 2101.8,3503.1 1993.7,3494 1885.5,3456.3 1777.2,3389.4 1669,3251.2" fill="#F35D58" fill-opacity="0.5"/>
<polyline points="1669,3251.2 1777.2,3323 1885.5,3377.1 1993.7,3368.9 2101.8,3346.4 2210.1,3338.2" fill="none" stroke="#F35D58" stroke-width="4.45" stroke-linejoin="round"/>
<polyline points="1669,3251.2 1777.2,3389.4 1885.5,3456.3 1993.7,3494 2101.8,3503.1 2210.1,3525.6" fill="none" stroke="#F35D58" stroke-width="4.45" stroke-linejoin="round"/>
<polygon points="1669,3251.2 1777.2,3338.2 1885.5,3364 1993.7,3346.4 2101.8,3293 2210.1,3301.3 2210.1,3647 2101.8,3642.5 1993.7,3503.1 1885.5,3443.6 1777.2,3399.7 1669,3251.2" fill="#6BA304" fill-opacity="0.5"/>
<polyline points="1669,3251.2 1777.2,3338.2 1885.5,3364 1993.7,3346.4 2101.8,3293 2210.1,3301.3" fill="none" stroke="#6BA304" stroke-width="4.45" stroke-linejoin="round"/>
<polyline points="1669,3251.2 1777.2,3399.7 1885.5,3443.6 1993.7,3503.1 2101.8,3642.5 2210.1,3647" fill="none" stroke="#6BA304" stroke-width="4.45" stroke-linejoin="round"/>
<polygon points="1669,3251.2 1777.2,3311.5 1885.5,3346.4 1993.7,3363.6 2101.8,3357.9 2210.1,3392.3 2210.1,3468.6 2101.8,3434.6 1993.7,3441.9 1885.5,3420.2 1777.2,3342.3 1669,3251.2" fill="#18B2B7" fill-opacity="0.5"/>
<polyline points="1669,3251.2 1777.2,3311.5 1885.5,3346.4 1993.7,3363.6 2101.8,3357.9 2210.1,3392.3" fill="none" stroke="#18B2B7" stroke-width="4.45" stroke-linejoin="round"/>
<polyline points="1669,3251.2 1777.2,3342.3 1885.5,3420.2 1993.7,3441.9 2101.8,3434.6 2210.1,3468.6" fill="none" stroke="#18B2B7" stroke-width="4.45" stroke-linejoin="round"/>
<polygon points="1669,3251.2 1777.2,3241 1885.5,3296.3 1993.7,3296.3 2101.8,3298 2210.1,3298.4 2210.1,3329.1 2101.8,3329.1 1993.7,3344.3 1885.5,3344.3 1777.2,3301.3 1669,3251.2" fill="#B75EFE" fill-opacity="0.5"/>
<polyline points="1669,3251.2 1777.2,3241 1885.5,3296.3 1993.7,3296.3 2101.8,3298 2210.1,3298.4" fill="none" stroke="#B75EFE" stroke-width="4.45" stroke-linejoin="round"/>
<polyline points="1669,3251.2 1777.2,3301.3 1885.5,3344.3 1993.7,3344.3 2101.8,3329.1 2210.1,3329.1" fill="none" stroke="#B75EFE" stroke-width="4.45" stroke-linejoin="round"/>
<polyline points="1669,3251.2 1777.2,3355.8 1885.5,3416.9 1993.7,3431.3 2101.8,3424.3 2210.1,3432.5" fill="none" stroke="#F35D58" stroke-width="4.45" stroke-linejoin="round"/>
<polyline points="1669,3251.2 1777.2,3368.9 1885.5,3403.8 1993.7,3425.1 2101.8,3468.2 2210.1,3474.4" fill="none" stroke="#6BA304" stroke-width="4.45" stroke-linejoin="round"/>
<polyline points="1669,3251.2 1777.2,3327.1 1885.5,3382.5 1993.7,3403 2101.8,3396.4 2210.1,3430.5" fill="none" stroke="#18B2B7" stroke-width="4.45" stroke-linejoin="round"/>
<polyline points="1669,3251.2 1777.2,3271.7 1885.5,3320.5 1993.7,3320.5 2101.8,3313.6 2210.1,3313.6" fill="none" stroke="#B75EFE" stroke-width="4.45" stroke-linejoin="round"/>
<path d="M1630.5 3251.2H1642M1630.5 3387.7H1642M1630.5 3524.2H1642M1630.5 3660.6H1642" stroke="#232323" stroke-width="4.45" fill="none"/>
<text x="1620.5" y="3265.3" font-size="36.67" fill="#3A3A3A" text-anchor="end">0.00</text>
<text x="1620.5" y="3401.8" font-size="36.67" fill="#3A3A3A" text-anchor="end">-0.02</text>
<text x="1620.5" y="3538.3" font-size="36.67" fill="#3A3A3A" text-anchor="end">-0.04</text>
<text x="1620.5" y="3674.7" font-size="36.67" fill="#3A3A3A" text-anchor="end">-0.06</text>
</g>
<g>
<rect x="189" y="3691" width="595.1" height="141" fill="#D0D0D0"/>
<text x="486.6" y="3740.1" font-size="36.67" fill="#0F0F0F" text-anchor="middle">Perturbation</text>
<text x="486.6" y="3810.2" font-size="36.67" fill="#0F0F0F" text-anchor="middle">Deep Ensemble</text>
<rect x="189" y="3832" width="595.1" height="446.7" fill="#E6E6E6"/>
<path d="M189 4214.2H784.1M189 4125.8H784.1M189 4037.5H784.1M189 3949.1H784.1M189 3860.7H784.1M270.2 3832V4278.7M378.4 3832V4278.7M486.6 3832V4278.7M594.8 3832V4278.7M703 3832V4278.7" stroke="#FFFFFF" stroke-width="2.22" fill="none"/>
<path d="M189 4258.4H784.1M189 4170H784.1M189 4081.6H784.1M189 3993.3H784.1M189 3904.9H784.1M216.1 3832V4278.7M324.2 3832V4278.7M432.5 3832V4278.7M540.7 3832V4278.7M648.9 3832V4278.7M757 3832V4278.7" stroke="#FFFFFF" stroke-width="4.45" fill="none"/>
<polygon points="216.1,4258.4 324.2,4172.9 432.5,4096.8 540.7,4007.7 648.9,3918.9 757,3852.3 757,3946 648.9,3992 540.7,4055.7 432.5,4127.7 324.2,4195.5 216.1,4258.4" fill="#F35D58" fill-opacity="0.5"/>
<polyline points="216.1,4258.4 324.2,4172.9 432.5,4096.8 540.7,4007.7 648.9,3918.9 757,3852.3" fill="none" stroke="#F35D58" stroke-width="4.45" stroke-linejoin="round"/>
<polyline points="216.1,4258.4 324.2,4195.5 432.5,4127.7 540.7,4055.7 648.9,3992 757,3946" fill="none" stroke="#F35D58" stroke-width="4.45" stroke-linejoin="round"/>
<polygon points="216.1,4258.4 324.2,4174.9 432.5,4098.1 540.7,4006.4 648.9,3922.2 757,3872 757,3960 648.9,4000.3 540.7,4057 432.5,4128.5 324.2,4197.5 216.1,4258.4" fill="#6BA304" fill-opacity="0.5"/>
<polyline points="216.1,4258.4 324.2,4174.9 432.5,4098.1 540.7,4006.4 648.9,3922.2 757,3872" fill="none" stroke="#6BA304" stroke-width="4.45" stroke-linejoin="round"/>
<polyline points="216.1,4258.4 324.2,4197.5 432.5,4128.5 540.7,4057 648.9,4000.3 757,3960" fill="none" stroke="#6BA304" stroke-width="4.45" stroke-linejoin="round"/>
<polygon points="216.1,4258.4 324.2,4207.8 432.5,4160.6 540.7,4127.7 648.9,4096.8 757,4055.7 757,4073.4 648.9,4118.6 540.7,4140 432.5,4172.9 324.2,4214 216.1,4258.4" fill="#18B2B7" fill-opacity="0.5"/>
<polyline points="216.1,4258.4 324.2,4207.8 432.5,4160.6 540.7,4127.7 648.9,4096.8 757,4055.7" fill="none" stroke="#18B2B7" stroke-width="4.45" stroke-linejoin="round"/>
<polyline points="216.1,4258.4 324.2,4214 432.5,4172.9 540.7,4140 648.9,4118.6 757,4073.4" fill="none" stroke="#18B2B7" stroke-width="4.45" stroke-linejoin="round"/>
<polygon points="216.1,4258.4 324.2,4209.9 432.5,4150.3 540.7,4122.7 648.9,4083.3 757,4051.6 757,4112.5 648.9,4140 540.7,4161.8 432.5,4194.3 324.2,4221.4 216.1,4258.4" fill="#B75EFE" fill-opacity="0.5"/>
<polyline points="216.1,4258.4 324.2,4209.9 432.5,4150.3 540.7,4122.7 648.9,4083.3 757,4051.6" fill="none" stroke="#B75EFE" stroke-width="4.45" stroke-linejoin="round"/>
<polyline points="216.1,4258.4 324.2,4221.4 432.5,4194.3 540.7,4161.8 648.9,4140 757,4112.5" fill="none" stroke="#B75EFE" stroke-width="4.45" stroke-linejoin="round"/>
<polyline points="216.1,4258.4 324.2,4185.2 432.5,4112.1 540.7,4033.1 648.9,3955.9 757,3899.6" fill="none" stroke="#F35D58" stroke-width="4.45" stroke-linejoin="round"/>
<polyline points="216.1,4258.4 324.2,4186.4 432.5,4113.3 540.7,4032.3 648.9,3961.2 757,3916" fill="none" stroke="#6BA304" stroke-width="4.45" stroke-linejoin="round"/>
<polyline points="216.1,4258.4 324.2,4210.7 432.5,4166.7 540.7,4133.8 648.9,4107.9 757,4064.8" fill="none" stroke="#18B2B7" stroke-width="4.45" stroke-linejoin="round"/>
<polyline points="216.1,4258.4 324.2,4216 432.5,4172.9 540.7,4142.1 648.9,4113.3 757,4082.5" fill="none" stroke="#B75EFE" stroke-width="4.45" stroke-linejoin="round"/>
<path d="M177.5 4258.4H189M177.5 4170H189M177.5 4081.6H189M177.5 3993.3H189M177.5 3904.9H189" stroke="#232323" stroke-width="4.45" fill="none"/>
<text x="167.5" y="4272.5" font-size="36.67" fill="#3A3A3A" text-anchor="end">0.0</text>
<text x="167.5" y="4184.1" font-size="36.67" fill="#3A3A3A" text-anchor="end">0.1</text>
<text x="167.5" y="4095.7" font-size="36.67" fill="#3A3A3A" text-anchor="end">0.2</text>
<text x="167.5" y="4007.4" font-size="36.67" fill="#3A3A3A" text-anchor="end">0.3</text>
<text x="167.5" y="3919" font-size="36.67" fill="#3A3A3A" text-anchor="end">0.4</text>
<path d="M216.1 4278.7V4290.1M324.2 4278.7V4290.1M432.5 4278.7V4290.1M540.7 4278.7V4290.1M648.9 4278.7V4290.1M757 4278.7V4290.1" stroke="#232323" stroke-width="4.45" fill="none"/>
<text x="216.1" y="4325.5" font-size="36.67" fill="#3A3A3A" text-anchor="middle">0</text>
<text x="324.2" y="4325.5" font-size="36.67" fill="#3A3A3A" text-anchor="middle">10</text>
<text x="432.5" y="4325.5" font-size="36.67" fill="#3A3A3A" text-anchor="middle">20</text>
<text x="540.7" y="4325.5" font-size="36.67" fill="#3A3A3A" text-anchor="middle">30</text>
<text x="648.9" y="4325.5" font-size="36.67" fill="#3A3A3A" text-anchor="middle">40</text>
<text x="757" y="4325.5" font-size="36.67" fill="#3A3A3A" text-anchor="middle">50</text>
</g>
<g>
<rect x="911.3" y="3691" width="595.1" height="141" fill="#D0D0D0"/>
<text x="1208.8" y="3740.1" font-size="36.67" fill="#0F0F0F" text-anchor="middle">Perturbation</text>
<text x="1208.8" y="3810.2" font-size="36.67" fill="#0F0F0F" text-anchor="middle">Linear</text>
<rect x="911.3" y="3832" width="595.1" height="446.7" fill="#E6E6E6"/>
<path d="M911.3 4212.7H1506.4M911.3 4121.4H1506.4M911.3 4030.1H1506.4M911.3 3938.8H1506.4M911.3 3847.5H1506.4M992.4 3832V4278.7M1100.6 3832V4278.7M1208.8 3832V4278.7M1317 3832V4278.7M1425.2 3832V4278.7" stroke="#FFFFFF" stroke-width="2.22" fill="none"/>
<path d="M911.3 4258.4H1506.4M911.3 4167.1H1506.4M911.3 4075.8H1506.4M911.3 3984.4H1506.4M911.3 3893.1H1506.4M938.3 3832V4278.7M1046.5 3832V4278.7M1154.8 3832V4278.7M1262.9 3832V4278.7M1371.1 3832V4278.7M1479.3 3832V4278.7" stroke="#FFFFFF" stroke-width="4.45" fill="none"/>
<polygon points="938.3,4258.4 1046.5,4172.7 1154.8,4148 1262.9,4078 1371.1,3979.1 1479.3,3861.8 1479.3,3917.4 1371.1,4011.3 1262.9,4101.9 1154.8,4166.5 1046.5,4180.9 938.3,4258.4" fill="#F35D58" fill-opacity="0.5"/>
<polyline points="938.3,4258.4 1046.5,4172.7 1154.8,4148 1262.9,4078 1371.1,3979.1 1479.3,3861.8" fill="none" stroke="#F35D58" stroke-width="4.45" stroke-linejoin="round"/>
<polyline points="938.3,4258.4 1046.5,4180.9 1154.8,4166.5 1262.9,4101.9 1371.1,4011.3 1479.3,3917.4" fill="none" stroke="#F35D58" stroke-width="4.45" stroke-linejoin="round"/>
<polygon points="938.3,4258.4 1046.5,4173.5 1154.8,4143.9 1262.9,4073.9 1371.1,3970.9 1479.3,3852.3 1479.3,3907.1 1371.1,4000.6 1262.9,4098.6 1154.8,4164.5 1046.5,4183 938.3,4258.4" fill="#6BA304" fill-opacity="0.5"/>
<polyline points="938.3,4258.4 1046.5,4173.5 1154.8,4143.9 1262.9,4073.9 1371.1,3970.9 1479.3,3852.3" fill="none" stroke="#6BA304" stroke-width="4.45" stroke-linejoin="round"/>
<polyline points="938.3,4258.4 1046.5,4183 1154.8,4164.5 1262.9,4098.6 1371.1,4000.6 1479.3,3907.1" fill="none" stroke="#6BA304" stroke-width="4.45" stroke-linejoin="round"/>
<polygon points="938.3,4258.4 1046.5,4115.9 1154.8,4073.9 1262.9,4094.5 1371.1,4133.6 1479.3,4121.2 1479.3,4161.2 1371.1,4160.4 1262.9,4135.6 1154.8,4108.9 1046.5,4132.3 938.3,4258.4" fill="#18B2B7" fill-opacity="0.5"/>
<polyline points="938.3,4258.4 1046.5,4115.9 1154.8,4073.9 1262.9,4094.5 1371.1,4133.6 1479.3,4121.2" fill="none" stroke="#18B2B7" stroke-width="4.45" stroke-linejoin="round"/>
<polyline points="938.3,4258.4 1046.5,4132.3 1154.8,4108.9 1262.9,4135.6 1371.1,4160.4 1479.3,4161.2" fill="none" stroke="#18B2B7" stroke-width="4.45" stroke-linejoin="round"/>
<polygon points="938.3,4258.4 1046.5,4123.3 1154.8,4063.6 1262.9,4033.9 1371.1,4014.1 1479.3,3998.5 1479.3,4113 1371.1,4111.8 1262.9,4113.8 1154.8,4118.3 1046.5,4148 938.3,4258.4" fill="#B75EFE" fill-opacity="0.5"/>
<polyline points="938.3,4258.4 1046.5,4123.3 1154.8,4063.6 1262.9,4033.9 1371.1,4014.1 1479.3,3998.5" fill="none" stroke="#B75EFE" stroke-width="4.45" stroke-linejoin="round"/>
<polyline points="938.3,4258.4 1046.5,4148 1154.8,4118.3 1262.9,4113.8 1371.1,4111.8 1479.3,4113" fill="none" stroke="#B75EFE" stroke-width="4.45" stroke-linejoin="round"/>
<polyline points="938.3,4258.4 1046.5,4176.8 1154.8,4157.5 1262.9,4090.3 1371.1,3995.6 1479.3,3888.5" fill="none" stroke="#F35D58" stroke-width="4.45" stroke-linejoin="round"/>
<polyline points="938.3,4258.4 1046.5,4178.1 1154.8,4154.2 1262.9,4086.2 1371.1,3985.3 1479.3,3880.3" fill="none" stroke="#6BA304" stroke-width="4.45" stroke-linejoin="round"/>
<polyline points="938.3,4258.4 1046.5,4124.1 1154.8,4092.4 1262.9,4115 1371.1,4147.2 1479.3,4141" fill="none" stroke="#18B2B7" stroke-width="4.45" stroke-linejoin="round"/>
<polyline points="938.3,4258.4 1046.5,4135.6 1154.8,4091.2 1262.9,4073.9 1371.1,4062.7 1479.3,4055.7" fill="none" stroke="#B75EFE" stroke-width="4.45" stroke-linejoin="round"/>
<path d="M899.8 4258.4H911.3M899.8 4167.1H911.3M899.8 4075.8H911.3M899.8 3984.4H911.3M899.8 3893.1H911.3" stroke="#232323" stroke-width="4.45" fill="none"/>
<text x="889.8" y="4272.5" font-size="36.67" fill="#3A3A3A" text-anchor="end">0.0</text>
<text x="889.8" y="4181.2" font-size="36.67" fill="#3A3A3A" text-anchor="end">0.5</text>
<text x="889.8" y="4089.9" font-size="36.67" fill="#3A3A3A" text-anchor="end">1.0</text>
<text x="889.8" y="3998.5" font-size="36.67" fill="#3A3A3A" text-anchor="end">1.5</text>
<text x="889.8" y="3907.2" font-size="36.67" fill="#3A3A3A" text-anchor="end">2.0</text>
<path d="M938.3 4278.7V4290.1M1046.5 4278.7V4290.1M1154.8 4278.7V4290.1M1262.9 4278.7V4290.1M1371.1 4278.7V4290.1M1479.3 4278.7V4290.1" stroke="#232323" stroke-width="4.45" fill="none"/>
<text x="938.3" y="4325.5" font-size="36.67" fill="#3A3A3A" text-anchor="middle">0</text>
<text x="1046.5" y="4325.5" font-size="36.67" fill="#3A3A3A" text-anchor="middle">10</text>
<text x="1154.8" y="4325.5" font-size="36.67" fill="#3A3A3A" text-anchor="middle">20</text>
<text x="1262.9" y="4325.5" font-size="36.67" fill="#3A3A3A" text-anchor="middle">30</text>
<text x="1371.1" y="4325.5" font-size="36.67" fill="#3A3A3A" text-anchor="middle">40</text>
<text x="1479.3" y="4325.5" font-size="36.67" fill="#3A3A3A" text-anchor="middle">50</text>
</g>
<g>
<rect x="1642" y="3691" width="595.1" height="141" fill="#D0D0D0"/>
<text x="1939.5" y="3740.1" font-size="36.67" fill="#0F0F0F" text-anchor="middle">Perturbation</text>
<text x="1939.5" y="3810.2" font-size="36.67" fill="#0F0F0F" text-anchor="middle">MLP</text>
<rect x="1642" y="3832" width="595.1" height="446.7" fill="#E6E6E6"/>
<path d="M1642 4215.1H2237.1M1642 4128.6H2237.1M1642 4042.1H2237.1M1642 3955.6H2237.1M1642 3869H2237.1M1723.1 3832V4278.7M1831.3 3832V4278.7M1939.5 3832V4278.7M2047.8 3832V4278.7M2155.9 3832V4278.7" stroke="#FFFFFF" stroke-width="2.22" fill="none"/>
<path d="M1642 4258.4H2237.1M1642 4171.9H2237.1M1642 4085.3H2237.1M1642 3998.8H2237.1M1642 3912.3H2237.1M1669 3832V4278.7M1777.2 3832V4278.7M1885.5 3832V4278.7M1993.7 3832V4278.7M2101.8 3832V4278.7M2210.1 3832V4278.7" stroke="#FFFFFF" stroke-width="4.45" fill="none"/>
<polygon points="1669,4258.4 1777.2,4213.2 1885.5,4126.8 1993.7,4047.5 2101.8,3967.4 2210.1,3909.8 2210.1,4086.6 2101.8,4103.8 1993.7,4136.7 1885.5,4170.8 1777.2,4239.5 1669,4258.4" fill="#F35D58" fill-opacity="0.5"/>
<polyline points="1669,4258.4 1777.2,4213.2 1885.5,4126.8 1993.7,4047.5 2101.8,3967.4 2210.1,3909.8" fill="none" stroke="#F35D58" stroke-width="4.45" stroke-linejoin="round"/>
<polyline points="1669,4258.4 1777.2,4239.5 1885.5,4170.8 1993.7,4136.7 2101.8,4103.8 2210.1,4086.6" fill="none" stroke="#F35D58" stroke-width="4.45" stroke-linejoin="round"/>
<polygon points="1669,4258.4 1777.2,4209.9 1885.5,4123.6 1993.7,4045.5 2101.8,3935.3 2210.1,3852.3 2210.1,4096 2101.8,4119.4 1993.7,4135.9 1885.5,4168.8 1777.2,4241.9 1669,4258.4" fill="#6BA304" fill-opacity="0.5"/>
<polyline points="1669,4258.4 1777.2,4209.9 1885.5,4123.6 1993.7,4045.5 2101.8,3935.3 2210.1,3852.3" fill="none" stroke="#6BA304" stroke-width="4.45" stroke-linejoin="round"/>
<polyline points="1669,4258.4 1777.2,4241.9 1885.5,4168.8 1993.7,4135.9 2101.8,4119.4 2210.1,4096" fill="none" stroke="#6BA304" stroke-width="4.45" stroke-linejoin="round"/>
<polygon points="1669,4258.4 1777.2,4220.2 1885.5,4164.7 1993.7,4127.7 2101.8,4092.7 2210.1,4038.5 2210.1,4125.6 2101.8,4151.5 1993.7,4166.7 1885.5,4197.5 1777.2,4233.7 1669,4258.4" fill="#18B2B7" fill-opacity="0.5"/>
<polyline points="1669,4258.4 1777.2,4220.2 1885.5,4164.7 1993.7,4127.7 2101.8,4092.7 2210.1,4038.5" fill="none" stroke="#18B2B7" stroke-width="4.45" stroke-linejoin="round"/>
<polyline points="1669,4258.4 1777.2,4233.7 1885.5,4197.5 1993.7,4166.7 2101.8,4151.5 2210.1,4125.6" fill="none" stroke="#18B2B7" stroke-width="4.45" stroke-linejoin="round"/>
<polygon points="1669,4258.4 1777.2,4228.4 1885.5,4205.8 1993.7,4168 2101.8,4137.9 2210.1,4117.4 2210.1,4188.5 2101.8,4203.7 1993.7,4214 1885.5,4230.4 1777.2,4236.6 1669,4258.4" fill="#B75EFE" fill-opacity="0.5"/>
<polyline points="1669,4258.4 1777.2,4228.4 1885.5,4205.8 1993.7,4168 2101.8,4137.9 2210.1,4117.4" fill="none" stroke="#B75EFE" stroke-width="4.45" stroke-linejoin="round"/>
<polyline points="1669,4258.4 1777.2,4236.6 1885.5,4230.4 1993.7,4214 2101.8,4203.7 2210.1,4188.5" fill="none" stroke="#B75EFE" stroke-width="4.45" stroke-linejoin="round"/>
<polyline points="1669,4258.4 1777.2,4226.3 1885.5,4148.2 1993.7,4092.7 2101.8,4035.2 2210.1,3998.2" fill="none" stroke="#F35D58" stroke-width="4.45" stroke-linejoin="round"/>
<polyline points="1669,4258.4 1777.2,4225.5 1885.5,4146.2 1993.7,4091.5 2101.8,4027.8 2210.1,3974.8" fill="none" stroke="#6BA304" stroke-width="4.45" stroke-linejoin="round"/>
<polyline points="1669,4258.4 1777.2,4227.1 1885.5,4181.1 1993.7,4147.4 2101.8,4121.5 2210.1,4082.5" fill="none" stroke="#18B2B7" stroke-width="4.45" stroke-linejoin="round"/>
<polyline points="1669,4258.4 1777.2,4232.5 1885.5,4217.3 1993.7,4191.4 2101.8,4171.6 2210.1,4152.3" fill="none" stroke="#B75EFE" stroke-width="4.45" stroke-linejoin="round"/>
<path d="M1630.5 4258.4H1642M1630.5 4171.9H1642M1630.5 4085.3H1642M1630.5 3998.8H1642M1630.5 3912.3H1642" stroke="#232323" stroke-width="4.45" fill="none"/>
<text x="1620.5" y="4272.5" font-size="36.67" fill="#3A3A3A" text-anchor="end">0.0</text>
<text x="1620.5" y="4186" font-size="36.67" fill="#3A3A3A" text-anchor="end">0.1</text>
<text x="1620.5" y="4099.4" font-size="36.67" fill="#3A3A3A" text-anchor="end">0.2</text>
<text x="1620.5" y="4012.9" font-size="36.67" fill="#3A3A3A" text-anchor="end">0.3</text>
<text x="1620.5" y="3926.4" font-size="36.67" fill="#3A3A3A" text-anchor="end">0.4</text>
<path d="M1669 4278.7V4290.1M1777.2 4278.7V4290.1M1885.5 4278.7V4290.1M1993.7 4278.7V4290.1M2101.8 4278.7V4290.1M2210.1 4278.7V4290.1" stroke="#232323" stroke-width="4.45" fill="none"/>
<text x="1669" y="4325.5" font-size="36.67" fill="#3A3A3A" text-anchor="middle">0</text>
<text x="1777.2" y="4325.5" font-size="36.67" fill="#3A3A3A" text-anchor="middle">10</text>
<text x="1885.5" y="4325.5" font-size="36.67" fill="#3A3A3A" text-anchor="middle">20</text>
<text x="1993.7" y="4325.5" font-size="36.67" fill="#3A3A3A" text-anchor="middle">30</text>
<text x="2101.8" y="4325.5" font-size="36.67" fill="#3A3A3A" text-anchor="middle">40</text>
<text x="2210.1" y="4325.5" font-size="36.67" fill="#3A3A3A" text-anchor="middle">50</text>
</g>
<text x="1213" y="4377.6" font-size="45.83" fill="#000" text-anchor="middle">Round</text>
<text transform="translate(55,2222.5) rotate(-90)" font-size="45.83" fill="#000" text-anchor="middle">Value</text>
<text x="2305.8" y="2082" font-size="45.83" fill="#000">Generator:</text>
<rect x="2305.5" y="2109.8" width="72" height="72" fill="#EFEFEF"/>
<rect x="2308.45" y="2112.8" width="66.1" height="66.1" fill="#F35D58" fill-opacity="0.5" stroke="#F35D58" stroke-width="4.45"/>
<path d="M2312.7 2145.8H2370.3" stroke="#F35D58" stroke-width="4.45"/>
<text x="2400.8" y="2159" font-size="36.67" fill="#000">DICE</text>
<rect x="2305.5" y="2181.8" width="72" height="72" fill="#EFEFEF"/>
<rect x="2308.45" y="2184.8" width="66.1" height="66.1" fill="#6BA304" fill-opacity="0.5" stroke="#6BA304" stroke-width="4.45"/>
<path d="M2312.7 2217.8H2370.3" stroke="#6BA304" stroke-width="4.45"/>
<text x="2400.8" y="2231" font-size="36.67" fill="#000">Generic (γ=0.5)</text>
<rect x="2305.5" y="2253.8" width="72" height="72" fill="#EFEFEF"/>
<rect x="2308.45" y="2256.8" width="66.1" height="66.1" fill="#18B2B7" fill-opacity="0.5" stroke="#18B2B7" stroke-width="4.45"/>
<path d="M2312.7 2289.8H2370.3" stroke="#18B2B7" stroke-width="4.45"/>
<text x="2400.8" y="2303" font-size="36.67" fill="#000">Greedy</text>
<rect x="2305.5" y="2325.8" width="72" height="72" fill="#EFEFEF"/>
<rect x="2308.45" y="2328.8" width="66.1" height="66.1" fill="#B75EFE" fill-opacity="0.5" stroke="#B75EFE" stroke-width="4.45"/>
<path d="M2312.7 2361.8H2370.3" stroke="#B75EFE" stroke-width="4.45"/>
<text x="2400.8" y="2375" font-size="36.67" fill="#000">Latent</text>
</svg>
</body></html>
